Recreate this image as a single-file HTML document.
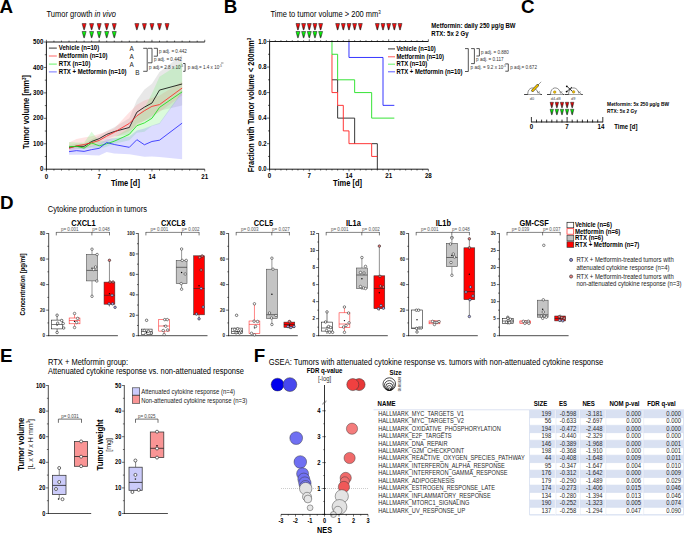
<!DOCTYPE html>
<html><head><meta charset="utf-8"><title>Figure</title>
<style>
html,body{margin:0;padding:0;background:#fff;width:685px;height:534px;overflow:hidden;}
svg{display:block;font-family:"Liberation Sans",sans-serif;}
</style></head><body>
<svg width="685" height="534" viewBox="0 0 685 534">
<defs>
<linearGradient id="gr" x1="0" y1="0" x2="0" y2="1"><stop offset="0" stop-color="#ff1a1a"/><stop offset="0.45" stop-color="#f00000"/><stop offset="1" stop-color="#500000"/></linearGradient>
<linearGradient id="gg" x1="0" y1="0" x2="0" y2="1"><stop offset="0" stop-color="#1aff1a"/><stop offset="0.45" stop-color="#00e800"/><stop offset="1" stop-color="#004a00"/></linearGradient>
<linearGradient id="grc" x1="0" y1="0" x2="0" y2="1"><stop offset="0" stop-color="#ff1010"/><stop offset="0.4" stop-color="#d00000"/><stop offset="1" stop-color="#300000"/></linearGradient>
<linearGradient id="ggc" x1="0" y1="0" x2="0" y2="1"><stop offset="0" stop-color="#10ff10"/><stop offset="0.4" stop-color="#00d000"/><stop offset="1" stop-color="#003000"/></linearGradient>
</defs>
<rect width="685" height="534" fill="#fff"/>
<text transform="translate(-0.4,12.9) scale(1,1.0)" font-size="18.8" font-weight="bold" text-anchor="start" fill="#000" >A</text>
<text transform="translate(46.5,17) scale(1,1.13)" font-size="7.5" fill="#000">Tumor growth <tspan font-style="italic">in vivo</tspan></text>
<polygon points="82.1,23.6 86.1,23.6 84.35,29.8 83.85,29.8" fill="url(#gr)" stroke="#2a2a2a" stroke-width="0.6" stroke-linejoin="round"/>
<polygon points="89.64,23.6 93.64,23.6 91.89,29.8 91.39,29.8" fill="url(#gr)" stroke="#2a2a2a" stroke-width="0.6" stroke-linejoin="round"/>
<polygon points="97.18,23.6 101.18,23.6 99.43,29.8 98.93,29.8" fill="url(#gr)" stroke="#2a2a2a" stroke-width="0.6" stroke-linejoin="round"/>
<polygon points="104.72,23.6 108.72,23.6 106.97,29.8 106.47,29.8" fill="url(#gr)" stroke="#2a2a2a" stroke-width="0.6" stroke-linejoin="round"/>
<polygon points="112.26,23.6 116.26,23.6 114.51,29.8 114.01,29.8" fill="url(#gr)" stroke="#2a2a2a" stroke-width="0.6" stroke-linejoin="round"/>
<polygon points="134.88,23.6 138.88,23.6 137.13,29.8 136.63,29.8" fill="url(#gr)" stroke="#2a2a2a" stroke-width="0.6" stroke-linejoin="round"/>
<polygon points="142.42,23.6 146.42,23.6 144.67,29.8 144.17,29.8" fill="url(#gr)" stroke="#2a2a2a" stroke-width="0.6" stroke-linejoin="round"/>
<polygon points="149.96,23.6 153.96,23.6 152.21,29.8 151.71,29.8" fill="url(#gr)" stroke="#2a2a2a" stroke-width="0.6" stroke-linejoin="round"/>
<polygon points="157.5,23.6 161.5,23.6 159.75,29.8 159.25,29.8" fill="url(#gr)" stroke="#2a2a2a" stroke-width="0.6" stroke-linejoin="round"/>
<polygon points="165.04,23.6 169.04,23.6 167.29,29.8 166.79,29.8" fill="url(#gr)" stroke="#2a2a2a" stroke-width="0.6" stroke-linejoin="round"/>
<polygon points="82.1,31.5 86.1,31.5 84.35,37.8 83.85,37.8" fill="url(#gg)" stroke="#2a2a2a" stroke-width="0.6" stroke-linejoin="round"/>
<polygon points="89.64,31.5 93.64,31.5 91.89,37.8 91.39,37.8" fill="url(#gg)" stroke="#2a2a2a" stroke-width="0.6" stroke-linejoin="round"/>
<polygon points="97.18,31.5 101.18,31.5 99.43,37.8 98.93,37.8" fill="url(#gg)" stroke="#2a2a2a" stroke-width="0.6" stroke-linejoin="round"/>
<polygon points="104.72,31.5 108.72,31.5 106.97,37.8 106.47,37.8" fill="url(#gg)" stroke="#2a2a2a" stroke-width="0.6" stroke-linejoin="round"/>
<polygon points="112.26,31.5 116.26,31.5 114.51,37.8 114.01,37.8" fill="url(#gg)" stroke="#2a2a2a" stroke-width="0.6" stroke-linejoin="round"/>
<polygon points="69.02,145.03 76.56,143.76 84.1,143.76 91.64,139.18 99.18,135.62 106.72,131.04 114.26,127.22 129.34,118.32 136.88,100 144.42,89.57 151.96,83.72 159.5,72.02 182.12,54.72 182.12,105.6 159.5,110.69 151.96,118.32 144.42,120.86 136.88,123.41 129.34,134.86 114.26,136.13 106.72,138.67 99.18,142.49 91.64,145.03 84.1,148.85 76.56,148.34 69.02,149.36" fill="#b4b4b4" stroke="none" stroke-width="0.5" fill-opacity="0.3"/>
<polygon points="69.02,142.49 76.56,138.93 84.1,137.4 91.64,136.13 99.18,134.09 106.72,131.55 114.26,128.5 129.34,112.21 136.88,104.84 144.42,100.51 151.96,97.97 159.5,95.42 182.12,81.43 182.12,95.42 159.5,111.96 151.96,115.78 144.42,120.86 136.88,125.95 129.34,131.04 114.26,137.4 106.72,141.72 99.18,145.03 91.64,146.81 84.1,148.34 76.56,149.36 69.02,150.88" fill="#ff8080" stroke="none" stroke-width="0.5" fill-opacity="0.22"/>
<polygon points="69.02,141.98 76.56,142.49 84.1,142.74 91.64,131.8 99.18,141.22 106.72,140.71 114.26,137.4 129.34,127.99 136.88,115.78 144.42,108.14 151.96,93.39 159.5,76.85 182.12,62.35 182.12,92.88 159.5,123.92 151.96,125.95 144.42,131.8 136.88,132.82 129.34,140.2 114.26,143.76 106.72,146.81 99.18,148.85 91.64,147.58 84.1,149.36 76.56,148.34 69.02,147.58" fill="#70f070" stroke="none" stroke-width="0.5" fill-opacity="0.25"/>
<polygon points="69.02,148.08 76.56,147.58 84.1,147.58 91.64,145.8 99.18,143.25 106.72,138.93 114.26,138.16 129.34,136.38 136.88,130.53 144.42,128.5 151.96,125.44 159.5,122.9 182.12,91.61 182.12,159.28 159.5,156.99 151.96,156.48 144.42,156.73 136.88,155.46 129.34,154.19 114.26,153.43 106.72,151.9 99.18,155.46 91.64,155.21 84.1,154.7 76.56,154.7 69.02,154.7" fill="#8080ff" stroke="none" stroke-width="0.5" fill-opacity="0.28"/>
<polyline points="69.02,147.32 76.56,146.3 84.1,146.3 91.64,141.47 99.18,138.67 106.72,134.35 114.26,131.55 129.34,127.48 136.88,112.21 144.42,107.13 151.96,103.06 159.5,90.08 182.12,83.98" stroke="#000" stroke-width="0.8" fill="none" />
<polyline points="69.02,148.34 76.56,145.8 84.1,144.52 91.64,142.74 99.18,140.45 106.72,136.13 114.26,132.31 129.34,123.41 136.88,115.78 144.42,110.69 151.96,106.36 159.5,104.58 182.12,88.05" stroke="#ff2020" stroke-width="0.8" fill="none" />
<polyline points="69.02,146.81 76.56,146.3 84.1,148.08 91.64,143 99.18,145.8 106.72,143.76 114.26,141.22 129.34,134.35 136.88,125.7 144.42,122.9 151.96,118.32 159.5,107.38 182.12,91.86" stroke="#10e010" stroke-width="0.8" fill="none" />
<polyline points="69.02,151.65 76.56,150.63 84.1,151.39 91.64,149.61 99.18,148.34 106.72,142.49 114.26,144.52 129.34,147.32 136.88,139.69 144.42,144.78 151.96,141.47 159.5,140.2 182.12,123.15" stroke="#2020ff" stroke-width="0.8" fill="none" />
<line x1="46.4" y1="42" x2="46.4" y2="169.6" stroke="#000" stroke-width="0.9" />
<line x1="46" y1="169.2" x2="204.74" y2="169.2" stroke="#000" stroke-width="0.9" />
<line x1="46.4" y1="42" x2="204.74" y2="42" stroke="#000" stroke-width="0.9" />
<line x1="46.4" y1="169.2" x2="46.4" y2="171.4" stroke="#000" stroke-width="0.6" />
<line x1="46.4" y1="42" x2="46.4" y2="39.8" stroke="#000" stroke-width="0.6" />
<line x1="53.94" y1="169.2" x2="53.94" y2="170.6" stroke="#000" stroke-width="0.6" />
<line x1="53.94" y1="42" x2="53.94" y2="40.6" stroke="#000" stroke-width="0.6" />
<line x1="61.48" y1="169.2" x2="61.48" y2="170.6" stroke="#000" stroke-width="0.6" />
<line x1="61.48" y1="42" x2="61.48" y2="40.6" stroke="#000" stroke-width="0.6" />
<line x1="69.02" y1="169.2" x2="69.02" y2="170.6" stroke="#000" stroke-width="0.6" />
<line x1="69.02" y1="42" x2="69.02" y2="40.6" stroke="#000" stroke-width="0.6" />
<line x1="76.56" y1="169.2" x2="76.56" y2="170.6" stroke="#000" stroke-width="0.6" />
<line x1="76.56" y1="42" x2="76.56" y2="40.6" stroke="#000" stroke-width="0.6" />
<line x1="84.1" y1="169.2" x2="84.1" y2="170.6" stroke="#000" stroke-width="0.6" />
<line x1="84.1" y1="42" x2="84.1" y2="40.6" stroke="#000" stroke-width="0.6" />
<line x1="91.64" y1="169.2" x2="91.64" y2="170.6" stroke="#000" stroke-width="0.6" />
<line x1="91.64" y1="42" x2="91.64" y2="40.6" stroke="#000" stroke-width="0.6" />
<line x1="99.18" y1="169.2" x2="99.18" y2="171.4" stroke="#000" stroke-width="0.6" />
<line x1="99.18" y1="42" x2="99.18" y2="39.8" stroke="#000" stroke-width="0.6" />
<line x1="106.72" y1="169.2" x2="106.72" y2="170.6" stroke="#000" stroke-width="0.6" />
<line x1="106.72" y1="42" x2="106.72" y2="40.6" stroke="#000" stroke-width="0.6" />
<line x1="114.26" y1="169.2" x2="114.26" y2="170.6" stroke="#000" stroke-width="0.6" />
<line x1="114.26" y1="42" x2="114.26" y2="40.6" stroke="#000" stroke-width="0.6" />
<line x1="121.8" y1="169.2" x2="121.8" y2="170.6" stroke="#000" stroke-width="0.6" />
<line x1="121.8" y1="42" x2="121.8" y2="40.6" stroke="#000" stroke-width="0.6" />
<line x1="129.34" y1="169.2" x2="129.34" y2="170.6" stroke="#000" stroke-width="0.6" />
<line x1="129.34" y1="42" x2="129.34" y2="40.6" stroke="#000" stroke-width="0.6" />
<line x1="136.88" y1="169.2" x2="136.88" y2="170.6" stroke="#000" stroke-width="0.6" />
<line x1="136.88" y1="42" x2="136.88" y2="40.6" stroke="#000" stroke-width="0.6" />
<line x1="144.42" y1="169.2" x2="144.42" y2="170.6" stroke="#000" stroke-width="0.6" />
<line x1="144.42" y1="42" x2="144.42" y2="40.6" stroke="#000" stroke-width="0.6" />
<line x1="151.96" y1="169.2" x2="151.96" y2="171.4" stroke="#000" stroke-width="0.6" />
<line x1="151.96" y1="42" x2="151.96" y2="39.8" stroke="#000" stroke-width="0.6" />
<line x1="159.5" y1="169.2" x2="159.5" y2="170.6" stroke="#000" stroke-width="0.6" />
<line x1="159.5" y1="42" x2="159.5" y2="40.6" stroke="#000" stroke-width="0.6" />
<line x1="167.04" y1="169.2" x2="167.04" y2="170.6" stroke="#000" stroke-width="0.6" />
<line x1="167.04" y1="42" x2="167.04" y2="40.6" stroke="#000" stroke-width="0.6" />
<line x1="174.58" y1="169.2" x2="174.58" y2="170.6" stroke="#000" stroke-width="0.6" />
<line x1="174.58" y1="42" x2="174.58" y2="40.6" stroke="#000" stroke-width="0.6" />
<line x1="182.12" y1="169.2" x2="182.12" y2="170.6" stroke="#000" stroke-width="0.6" />
<line x1="182.12" y1="42" x2="182.12" y2="40.6" stroke="#000" stroke-width="0.6" />
<line x1="189.66" y1="169.2" x2="189.66" y2="170.6" stroke="#000" stroke-width="0.6" />
<line x1="189.66" y1="42" x2="189.66" y2="40.6" stroke="#000" stroke-width="0.6" />
<line x1="197.2" y1="169.2" x2="197.2" y2="170.6" stroke="#000" stroke-width="0.6" />
<line x1="197.2" y1="42" x2="197.2" y2="40.6" stroke="#000" stroke-width="0.6" />
<line x1="204.74" y1="169.2" x2="204.74" y2="171.4" stroke="#000" stroke-width="0.6" />
<line x1="204.74" y1="42" x2="204.74" y2="39.8" stroke="#000" stroke-width="0.6" />
<line x1="43.8" y1="169.2" x2="46.4" y2="169.2" stroke="#000" stroke-width="0.6" />
<line x1="44.8" y1="156.48" x2="46.4" y2="156.48" stroke="#000" stroke-width="0.6" />
<line x1="43.8" y1="143.76" x2="46.4" y2="143.76" stroke="#000" stroke-width="0.6" />
<line x1="44.8" y1="131.04" x2="46.4" y2="131.04" stroke="#000" stroke-width="0.6" />
<line x1="43.8" y1="118.32" x2="46.4" y2="118.32" stroke="#000" stroke-width="0.6" />
<line x1="44.8" y1="105.6" x2="46.4" y2="105.6" stroke="#000" stroke-width="0.6" />
<line x1="43.8" y1="92.88" x2="46.4" y2="92.88" stroke="#000" stroke-width="0.6" />
<line x1="44.8" y1="80.16" x2="46.4" y2="80.16" stroke="#000" stroke-width="0.6" />
<line x1="43.8" y1="67.44" x2="46.4" y2="67.44" stroke="#000" stroke-width="0.6" />
<line x1="44.8" y1="54.72" x2="46.4" y2="54.72" stroke="#000" stroke-width="0.6" />
<line x1="43.8" y1="42" x2="46.4" y2="42" stroke="#000" stroke-width="0.6" />
<text transform="translate(43.4,171.3) scale(1,1.13)" font-size="6.2" font-weight="bold" text-anchor="end" fill="#000" >0</text>
<text transform="translate(43.4,145.86) scale(1,1.13)" font-size="6.2" font-weight="bold" text-anchor="end" fill="#000" >100</text>
<text transform="translate(43.4,120.42) scale(1,1.13)" font-size="6.2" font-weight="bold" text-anchor="end" fill="#000" >200</text>
<text transform="translate(43.4,94.98) scale(1,1.13)" font-size="6.2" font-weight="bold" text-anchor="end" fill="#000" >300</text>
<text transform="translate(43.4,69.54) scale(1,1.13)" font-size="6.2" font-weight="bold" text-anchor="end" fill="#000" >400</text>
<text transform="translate(43.4,44.1) scale(1,1.13)" font-size="6.2" font-weight="bold" text-anchor="end" fill="#000" >500</text>
<text transform="translate(46.4,178.6) scale(1,1.13)" font-size="6.2" font-weight="bold" text-anchor="middle" fill="#000" >0</text>
<text transform="translate(99.18,178.6) scale(1,1.13)" font-size="6.2" font-weight="bold" text-anchor="middle" fill="#000" >7</text>
<text transform="translate(151.96,178.6) scale(1,1.13)" font-size="6.2" font-weight="bold" text-anchor="middle" fill="#000" >14</text>
<text transform="translate(204.74,178.6) scale(1,1.13)" font-size="6.2" font-weight="bold" text-anchor="middle" fill="#000" >21</text>
<text transform="translate(125.4,185.6) scale(1,1.13)" font-size="7.5" font-weight="bold" text-anchor="middle" fill="#000" >Time [d]</text>
<text transform="translate(28.5,112) rotate(-90) scale(1,1.13)" font-size="7.5" font-weight="bold" text-anchor="middle" fill="#000">Tumor volume [mm<tspan font-size="4.5" dy="-2.6">3</tspan><tspan dy="2.6">]</tspan></text>
<line x1="48.9" y1="48.1" x2="56.8" y2="48.1" stroke="#000" stroke-width="0.8" />
<text transform="translate(58.8,50.3) scale(1,1.13)" font-size="6.05" font-weight="bold" text-anchor="start" fill="#000" >Vehicle (n=10)</text>
<line x1="48.9" y1="56" x2="56.8" y2="56" stroke="#ff4040" stroke-width="0.8" />
<text transform="translate(58.8,58.2) scale(1,1.13)" font-size="6.05" font-weight="bold" text-anchor="start" fill="#000" >Metformin (n=10)</text>
<line x1="48.9" y1="64.1" x2="56.8" y2="64.1" stroke="#40f040" stroke-width="0.8" />
<text transform="translate(58.8,66.3) scale(1,1.13)" font-size="6.05" font-weight="bold" text-anchor="start" fill="#000" >RTX (n=10)</text>
<line x1="48.9" y1="71.9" x2="56.8" y2="71.9" stroke="#5050ff" stroke-width="0.8" />
<text transform="translate(58.8,74.1) scale(1,1.13)" font-size="6.05" font-weight="bold" text-anchor="start" fill="#000" >RTX + Metformin (n=10)</text>
<text transform="translate(131.6,50.8) scale(1,1.13)" font-size="6.4" text-anchor="middle" fill="#222" >A</text>
<text transform="translate(131.6,58.6) scale(1,1.13)" font-size="6.4" text-anchor="middle" fill="#222" >A</text>
<text transform="translate(131.6,66.6) scale(1,1.13)" font-size="6.4" text-anchor="middle" fill="#222" >A</text>
<text transform="translate(137.4,74.6) scale(1,1.13)" font-size="6.4" text-anchor="middle" fill="#222" >B</text>
<polyline points="143.2,48.3 147.2,48.3 147.2,71.3 143.2,71.3" stroke="#2a2a2a" stroke-width="0.8" fill="none" />
<polyline points="148,48.3 152,48.3 152,62.8 148,62.8" stroke="#2a2a2a" stroke-width="0.8" fill="none" />
<polyline points="153.8,48.3 157.4,48.3 157.4,56.2 153.8,56.2" stroke="#2a2a2a" stroke-width="0.8" fill="none" />
<polyline points="183.1,63.5 185.1,63.5 185.1,71.3 183.1,71.3" stroke="#2a2a2a" stroke-width="0.8" fill="none" />
<g font-size="4.3" fill="#444">
<text transform="translate(158.9,53) scale(1,1.13)" font-size="4.6" text-anchor="start" fill="#333" >p adj. = 0.442</text>
<text transform="translate(153.9,61.2) scale(1,1.13)" font-size="4.6" text-anchor="start" fill="#333" >p adj. = 0.442</text>
<text transform="translate(149.1,69.1) scale(1,1.13)" font-size="4.6" fill="#333">p adj.= 2.8 x 10<tspan font-size="2.8" dy="-1.6">-5</tspan></text>
<text transform="translate(187.8,69.1) scale(1,1.13)" font-size="4.6" fill="#333">p adj.= 1.4 x 10<tspan font-size="2.8" dy="-1.6">-5</tspan></text>
</g>
<text transform="translate(223.7,12.9) scale(1,1.0)" font-size="18.8" font-weight="bold" text-anchor="start" fill="#000" >B</text>
<text transform="translate(270.5,17) scale(1,1.13)" font-size="7.5" fill="#000">Time to tumor volume &gt; 200 mm<tspan font-size="4.5" dy="-2.6">3</tspan></text>
<polygon points="296,23.5 299.9,23.5 298.2,29.9 297.7,29.9" fill="url(#gr)" stroke="#2a2a2a" stroke-width="0.6" stroke-linejoin="round"/>
<polygon points="301.67,23.5 305.57,23.5 303.87,29.9 303.37,29.9" fill="url(#gr)" stroke="#2a2a2a" stroke-width="0.6" stroke-linejoin="round"/>
<polygon points="307.34,23.5 311.24,23.5 309.54,29.9 309.04,29.9" fill="url(#gr)" stroke="#2a2a2a" stroke-width="0.6" stroke-linejoin="round"/>
<polygon points="313.01,23.5 316.91,23.5 315.21,29.9 314.71,29.9" fill="url(#gr)" stroke="#2a2a2a" stroke-width="0.6" stroke-linejoin="round"/>
<polygon points="318.68,23.5 322.58,23.5 320.88,29.9 320.38,29.9" fill="url(#gr)" stroke="#2a2a2a" stroke-width="0.6" stroke-linejoin="round"/>
<polygon points="335.69,23.5 339.59,23.5 337.89,29.9 337.39,29.9" fill="url(#gr)" stroke="#2a2a2a" stroke-width="0.6" stroke-linejoin="round"/>
<polygon points="341.36,23.5 345.26,23.5 343.56,29.9 343.06,29.9" fill="url(#gr)" stroke="#2a2a2a" stroke-width="0.6" stroke-linejoin="round"/>
<polygon points="347.03,23.5 350.93,23.5 349.23,29.9 348.73,29.9" fill="url(#gr)" stroke="#2a2a2a" stroke-width="0.6" stroke-linejoin="round"/>
<polygon points="352.7,23.5 356.6,23.5 354.9,29.9 354.4,29.9" fill="url(#gr)" stroke="#2a2a2a" stroke-width="0.6" stroke-linejoin="round"/>
<polygon points="358.37,23.5 362.27,23.5 360.57,29.9 360.07,29.9" fill="url(#gr)" stroke="#2a2a2a" stroke-width="0.6" stroke-linejoin="round"/>
<polygon points="375.38,23.5 379.28,23.5 377.58,29.9 377.08,29.9" fill="url(#gr)" stroke="#2a2a2a" stroke-width="0.6" stroke-linejoin="round"/>
<polygon points="381.05,23.5 384.95,23.5 383.25,29.9 382.75,29.9" fill="url(#gr)" stroke="#2a2a2a" stroke-width="0.6" stroke-linejoin="round"/>
<polygon points="386.72,23.5 390.62,23.5 388.92,29.9 388.42,29.9" fill="url(#gr)" stroke="#2a2a2a" stroke-width="0.6" stroke-linejoin="round"/>
<polygon points="392.39,23.5 396.29,23.5 394.59,29.9 394.09,29.9" fill="url(#gr)" stroke="#2a2a2a" stroke-width="0.6" stroke-linejoin="round"/>
<polygon points="398.06,23.5 401.96,23.5 400.26,29.9 399.76,29.9" fill="url(#gr)" stroke="#2a2a2a" stroke-width="0.6" stroke-linejoin="round"/>
<polygon points="296,31.5 299.9,31.5 298.2,37.8 297.7,37.8" fill="url(#gg)" stroke="#2a2a2a" stroke-width="0.6" stroke-linejoin="round"/>
<polygon points="301.67,31.5 305.57,31.5 303.87,37.8 303.37,37.8" fill="url(#gg)" stroke="#2a2a2a" stroke-width="0.6" stroke-linejoin="round"/>
<polygon points="307.34,31.5 311.24,31.5 309.54,37.8 309.04,37.8" fill="url(#gg)" stroke="#2a2a2a" stroke-width="0.6" stroke-linejoin="round"/>
<polygon points="313.01,31.5 316.91,31.5 315.21,37.8 314.71,37.8" fill="url(#gg)" stroke="#2a2a2a" stroke-width="0.6" stroke-linejoin="round"/>
<polygon points="318.68,31.5 322.58,31.5 320.88,37.8 320.38,37.8" fill="url(#gg)" stroke="#2a2a2a" stroke-width="0.6" stroke-linejoin="round"/>
<polyline points="331.97,79.81 337.64,79.81 337.64,92.58" stroke="#222" stroke-width="0.9" fill="none" />
<polyline points="337.64,105.35 337.64,118.12 354.65,118.12 354.65,143.66" stroke="#222" stroke-width="0.9" fill="none" />
<polyline points="371.66,143.66 377.33,143.66 377.33,169.2" stroke="#222" stroke-width="0.9" fill="none" />
<polyline points="331.97,54.27 331.97,92.58 337.64,92.58 337.64,105.35 343.31,105.35 343.31,130.89 348.98,130.89 348.98,143.66 371.66,143.66 371.66,156.43 377.33,156.43" stroke="#ff2020" stroke-width="0.9" fill="none" />
<polyline points="331.97,41.5 331.97,54.27 337.64,54.27 337.64,79.81 354.65,79.81 354.65,92.58 371.66,92.58 371.66,118.12 394.34,118.12" stroke="#20e020" stroke-width="0.9" fill="none" />
<polyline points="348.98,41.5 348.98,57.46 383,57.46 383,105.35 394.34,105.35" stroke="#2020ff" stroke-width="0.9" fill="none" />
<line x1="269.6" y1="41.5" x2="269.6" y2="169.6" stroke="#000" stroke-width="0.9" />
<line x1="269.2" y1="169.2" x2="428.36" y2="169.2" stroke="#000" stroke-width="0.9" />
<line x1="269.6" y1="41.5" x2="428.36" y2="41.5" stroke="#000" stroke-width="0.9" />
<line x1="269.6" y1="169.2" x2="269.6" y2="171.4" stroke="#000" stroke-width="0.6" />
<line x1="269.6" y1="41.5" x2="269.6" y2="39.3" stroke="#000" stroke-width="0.6" />
<line x1="275.27" y1="169.2" x2="275.27" y2="170.5" stroke="#000" stroke-width="0.6" />
<line x1="275.27" y1="41.5" x2="275.27" y2="40.2" stroke="#000" stroke-width="0.6" />
<line x1="280.94" y1="169.2" x2="280.94" y2="170.5" stroke="#000" stroke-width="0.6" />
<line x1="280.94" y1="41.5" x2="280.94" y2="40.2" stroke="#000" stroke-width="0.6" />
<line x1="286.61" y1="169.2" x2="286.61" y2="170.5" stroke="#000" stroke-width="0.6" />
<line x1="286.61" y1="41.5" x2="286.61" y2="40.2" stroke="#000" stroke-width="0.6" />
<line x1="292.28" y1="169.2" x2="292.28" y2="170.5" stroke="#000" stroke-width="0.6" />
<line x1="292.28" y1="41.5" x2="292.28" y2="40.2" stroke="#000" stroke-width="0.6" />
<line x1="297.95" y1="169.2" x2="297.95" y2="170.5" stroke="#000" stroke-width="0.6" />
<line x1="297.95" y1="41.5" x2="297.95" y2="40.2" stroke="#000" stroke-width="0.6" />
<line x1="303.62" y1="169.2" x2="303.62" y2="170.5" stroke="#000" stroke-width="0.6" />
<line x1="303.62" y1="41.5" x2="303.62" y2="40.2" stroke="#000" stroke-width="0.6" />
<line x1="309.29" y1="169.2" x2="309.29" y2="171.4" stroke="#000" stroke-width="0.6" />
<line x1="309.29" y1="41.5" x2="309.29" y2="39.3" stroke="#000" stroke-width="0.6" />
<line x1="314.96" y1="169.2" x2="314.96" y2="170.5" stroke="#000" stroke-width="0.6" />
<line x1="314.96" y1="41.5" x2="314.96" y2="40.2" stroke="#000" stroke-width="0.6" />
<line x1="320.63" y1="169.2" x2="320.63" y2="170.5" stroke="#000" stroke-width="0.6" />
<line x1="320.63" y1="41.5" x2="320.63" y2="40.2" stroke="#000" stroke-width="0.6" />
<line x1="326.3" y1="169.2" x2="326.3" y2="170.5" stroke="#000" stroke-width="0.6" />
<line x1="326.3" y1="41.5" x2="326.3" y2="40.2" stroke="#000" stroke-width="0.6" />
<line x1="331.97" y1="169.2" x2="331.97" y2="170.5" stroke="#000" stroke-width="0.6" />
<line x1="331.97" y1="41.5" x2="331.97" y2="40.2" stroke="#000" stroke-width="0.6" />
<line x1="337.64" y1="169.2" x2="337.64" y2="170.5" stroke="#000" stroke-width="0.6" />
<line x1="337.64" y1="41.5" x2="337.64" y2="40.2" stroke="#000" stroke-width="0.6" />
<line x1="343.31" y1="169.2" x2="343.31" y2="170.5" stroke="#000" stroke-width="0.6" />
<line x1="343.31" y1="41.5" x2="343.31" y2="40.2" stroke="#000" stroke-width="0.6" />
<line x1="348.98" y1="169.2" x2="348.98" y2="171.4" stroke="#000" stroke-width="0.6" />
<line x1="348.98" y1="41.5" x2="348.98" y2="39.3" stroke="#000" stroke-width="0.6" />
<line x1="354.65" y1="169.2" x2="354.65" y2="170.5" stroke="#000" stroke-width="0.6" />
<line x1="354.65" y1="41.5" x2="354.65" y2="40.2" stroke="#000" stroke-width="0.6" />
<line x1="360.32" y1="169.2" x2="360.32" y2="170.5" stroke="#000" stroke-width="0.6" />
<line x1="360.32" y1="41.5" x2="360.32" y2="40.2" stroke="#000" stroke-width="0.6" />
<line x1="365.99" y1="169.2" x2="365.99" y2="170.5" stroke="#000" stroke-width="0.6" />
<line x1="365.99" y1="41.5" x2="365.99" y2="40.2" stroke="#000" stroke-width="0.6" />
<line x1="371.66" y1="169.2" x2="371.66" y2="170.5" stroke="#000" stroke-width="0.6" />
<line x1="371.66" y1="41.5" x2="371.66" y2="40.2" stroke="#000" stroke-width="0.6" />
<line x1="377.33" y1="169.2" x2="377.33" y2="170.5" stroke="#000" stroke-width="0.6" />
<line x1="377.33" y1="41.5" x2="377.33" y2="40.2" stroke="#000" stroke-width="0.6" />
<line x1="383" y1="169.2" x2="383" y2="170.5" stroke="#000" stroke-width="0.6" />
<line x1="383" y1="41.5" x2="383" y2="40.2" stroke="#000" stroke-width="0.6" />
<line x1="388.67" y1="169.2" x2="388.67" y2="171.4" stroke="#000" stroke-width="0.6" />
<line x1="388.67" y1="41.5" x2="388.67" y2="39.3" stroke="#000" stroke-width="0.6" />
<line x1="394.34" y1="169.2" x2="394.34" y2="170.5" stroke="#000" stroke-width="0.6" />
<line x1="394.34" y1="41.5" x2="394.34" y2="40.2" stroke="#000" stroke-width="0.6" />
<line x1="400.01" y1="169.2" x2="400.01" y2="170.5" stroke="#000" stroke-width="0.6" />
<line x1="400.01" y1="41.5" x2="400.01" y2="40.2" stroke="#000" stroke-width="0.6" />
<line x1="405.68" y1="169.2" x2="405.68" y2="170.5" stroke="#000" stroke-width="0.6" />
<line x1="405.68" y1="41.5" x2="405.68" y2="40.2" stroke="#000" stroke-width="0.6" />
<line x1="411.35" y1="169.2" x2="411.35" y2="170.5" stroke="#000" stroke-width="0.6" />
<line x1="411.35" y1="41.5" x2="411.35" y2="40.2" stroke="#000" stroke-width="0.6" />
<line x1="417.02" y1="169.2" x2="417.02" y2="170.5" stroke="#000" stroke-width="0.6" />
<line x1="417.02" y1="41.5" x2="417.02" y2="40.2" stroke="#000" stroke-width="0.6" />
<line x1="422.69" y1="169.2" x2="422.69" y2="170.5" stroke="#000" stroke-width="0.6" />
<line x1="422.69" y1="41.5" x2="422.69" y2="40.2" stroke="#000" stroke-width="0.6" />
<line x1="428.36" y1="169.2" x2="428.36" y2="171.4" stroke="#000" stroke-width="0.6" />
<line x1="428.36" y1="41.5" x2="428.36" y2="39.3" stroke="#000" stroke-width="0.6" />
<line x1="267" y1="169.2" x2="269.6" y2="169.2" stroke="#000" stroke-width="0.6" />
<line x1="268" y1="156.43" x2="269.6" y2="156.43" stroke="#000" stroke-width="0.6" />
<line x1="267" y1="143.66" x2="269.6" y2="143.66" stroke="#000" stroke-width="0.6" />
<line x1="268" y1="130.89" x2="269.6" y2="130.89" stroke="#000" stroke-width="0.6" />
<line x1="267" y1="118.12" x2="269.6" y2="118.12" stroke="#000" stroke-width="0.6" />
<line x1="268" y1="105.35" x2="269.6" y2="105.35" stroke="#000" stroke-width="0.6" />
<line x1="267" y1="92.58" x2="269.6" y2="92.58" stroke="#000" stroke-width="0.6" />
<line x1="268" y1="79.81" x2="269.6" y2="79.81" stroke="#000" stroke-width="0.6" />
<line x1="267" y1="67.04" x2="269.6" y2="67.04" stroke="#000" stroke-width="0.6" />
<line x1="268" y1="54.27" x2="269.6" y2="54.27" stroke="#000" stroke-width="0.6" />
<line x1="267" y1="41.5" x2="269.6" y2="41.5" stroke="#000" stroke-width="0.6" />
<text transform="translate(266.7,171.2) scale(1,1.13)" font-size="6" font-weight="bold" text-anchor="end" fill="#000" >0.0</text>
<text transform="translate(266.7,145.66) scale(1,1.13)" font-size="6" font-weight="bold" text-anchor="end" fill="#000" >0.2</text>
<text transform="translate(266.7,120.12) scale(1,1.13)" font-size="6" font-weight="bold" text-anchor="end" fill="#000" >0.4</text>
<text transform="translate(266.7,94.58) scale(1,1.13)" font-size="6" font-weight="bold" text-anchor="end" fill="#000" >0.6</text>
<text transform="translate(266.7,69.04) scale(1,1.13)" font-size="6" font-weight="bold" text-anchor="end" fill="#000" >0.8</text>
<text transform="translate(266.7,43.5) scale(1,1.13)" font-size="6" font-weight="bold" text-anchor="end" fill="#000" >1.0</text>
<text transform="translate(269.6,178.4) scale(1,1.13)" font-size="6.2" font-weight="bold" text-anchor="middle" fill="#000" >0</text>
<text transform="translate(309.29,178.4) scale(1,1.13)" font-size="6.2" font-weight="bold" text-anchor="middle" fill="#000" >7</text>
<text transform="translate(348.98,178.4) scale(1,1.13)" font-size="6.2" font-weight="bold" text-anchor="middle" fill="#000" >14</text>
<text transform="translate(388.67,178.4) scale(1,1.13)" font-size="6.2" font-weight="bold" text-anchor="middle" fill="#000" >21</text>
<text transform="translate(428.36,178.4) scale(1,1.13)" font-size="6.2" font-weight="bold" text-anchor="middle" fill="#000" >28</text>
<text transform="translate(347.6,185.8) scale(1,1.13)" font-size="7.5" font-weight="bold" text-anchor="middle" fill="#000" >Time [d]</text>
<text transform="translate(254.2,105) rotate(-90) scale(1,1.13)" font-size="7.4" font-weight="bold" text-anchor="middle" fill="#000">Fraction with Tumor volume &lt; 200mm<tspan font-size="4.5" dy="-2.6">3</tspan></text>
<line x1="388" y1="48.9" x2="395" y2="48.9" stroke="#000" stroke-width="0.8" />
<text transform="translate(396.4,51) scale(1,1.13)" font-size="5.9" font-weight="bold" text-anchor="start" fill="#000" >Vehicle (n=10)</text>
<line x1="388" y1="56.8" x2="395" y2="56.8" stroke="#ff3030" stroke-width="0.8" />
<text transform="translate(396.4,58.9) scale(1,1.13)" font-size="5.9" font-weight="bold" text-anchor="start" fill="#000" >Metformin (n=10)</text>
<line x1="388" y1="64.2" x2="395" y2="64.2" stroke="#40f040" stroke-width="0.8" />
<text transform="translate(396.4,66.3) scale(1,1.13)" font-size="5.9" font-weight="bold" text-anchor="start" fill="#000" >RTX (n=10)</text>
<line x1="388" y1="71.8" x2="395" y2="71.8" stroke="#3030ff" stroke-width="0.8" />
<text transform="translate(396.4,73.9) scale(1,1.13)" font-size="5.9" font-weight="bold" text-anchor="start" fill="#000" >RTX + Metformin (n=10)</text>
<text transform="translate(431.3,28.2) scale(1,1.13)" font-size="6.05" font-weight="bold" text-anchor="start" fill="#000" >Metformin: daily 250 µg/g BW</text>
<text transform="translate(431.3,36.1) scale(1,1.13)" font-size="6.05" font-weight="bold" text-anchor="start" fill="#000" >RTX: 5x 2 Gy</text>
<polyline points="465,48.6 468.3,48.6 468.3,71.5 465,71.5" stroke="#2a2a2a" stroke-width="0.8" fill="none" />
<polyline points="471.1,48.6 474.4,48.6 474.4,63.6 471.1,63.6" stroke="#2a2a2a" stroke-width="0.8" fill="none" />
<polyline points="476.4,48.6 479.4,48.6 479.4,56 476.4,56" stroke="#2a2a2a" stroke-width="0.8" fill="none" />
<polyline points="505.3,63.9 508.3,63.9 508.3,71.2 505.3,71.2" stroke="#2a2a2a" stroke-width="0.8" fill="none" />
<text transform="translate(481,53.8) scale(1,1.13)" font-size="4.6" text-anchor="start" fill="#333" >p adj. = 0.880</text>
<text transform="translate(476.1,61.3) scale(1,1.13)" font-size="4.6" text-anchor="start" fill="#333" >p adj. = 0.117</text>
<text transform="translate(470.6,69.2) scale(1,1.13)" font-size="4.6" fill="#333">p adj. = 9.2 x 10<tspan font-size="2.8" dy="-1.6">-5</tspan></text>
<text transform="translate(510.3,69.1) scale(1,1.13)" font-size="4.6" text-anchor="start" fill="#333" >p adj.= 0.672</text>
<line x1="221" y1="63" x2="223.5" y2="63" stroke="#444" stroke-width="0.6" />
<text transform="translate(521,13.2) scale(1,1.0)" font-size="18.8" font-weight="bold" text-anchor="start" fill="#000" >C</text>
<line x1="531.4" y1="122" x2="602.8" y2="122" stroke="#000" stroke-width="0.9" />
<line x1="531.4" y1="117" x2="531.4" y2="122.4" stroke="#000" stroke-width="0.8" />
<line x1="536.5" y1="119.6" x2="536.5" y2="122.4" stroke="#000" stroke-width="0.8" />
<line x1="541.6" y1="119.6" x2="541.6" y2="122.4" stroke="#000" stroke-width="0.8" />
<line x1="546.7" y1="119.6" x2="546.7" y2="122.4" stroke="#000" stroke-width="0.8" />
<line x1="551.8" y1="119.6" x2="551.8" y2="122.4" stroke="#000" stroke-width="0.8" />
<line x1="556.9" y1="119.6" x2="556.9" y2="122.4" stroke="#000" stroke-width="0.8" />
<line x1="562" y1="119.6" x2="562" y2="122.4" stroke="#000" stroke-width="0.8" />
<line x1="567.1" y1="117" x2="567.1" y2="122.4" stroke="#000" stroke-width="0.8" />
<line x1="572.2" y1="119.6" x2="572.2" y2="122.4" stroke="#000" stroke-width="0.8" />
<line x1="577.3" y1="119.6" x2="577.3" y2="122.4" stroke="#000" stroke-width="0.8" />
<line x1="582.4" y1="119.6" x2="582.4" y2="122.4" stroke="#000" stroke-width="0.8" />
<line x1="587.5" y1="119.6" x2="587.5" y2="122.4" stroke="#000" stroke-width="0.8" />
<line x1="592.6" y1="119.6" x2="592.6" y2="122.4" stroke="#000" stroke-width="0.8" />
<line x1="597.7" y1="119.6" x2="597.7" y2="122.4" stroke="#000" stroke-width="0.8" />
<line x1="602.8" y1="117" x2="602.8" y2="122.4" stroke="#000" stroke-width="0.8" />
<text transform="translate(531.4,129) scale(1,1.13)" font-size="6.2" font-weight="bold" text-anchor="middle" fill="#000" >0</text>
<text transform="translate(567.1,129) scale(1,1.13)" font-size="6.2" font-weight="bold" text-anchor="middle" fill="#000" >7</text>
<text transform="translate(601,129) scale(1,1.13)" font-size="6.2" font-weight="bold" text-anchor="middle" fill="#000" >14</text>
<text transform="translate(614.3,128.9) scale(1,1.13)" font-size="6" font-weight="bold" text-anchor="start" fill="#000" >Time [d]</text>
<polygon points="550.15,102.3 553.45,102.3 552.05,107.7 551.55,107.7" fill="url(#grc)" stroke="#2a2a2a" stroke-width="0.6" stroke-linejoin="round"/>
<polygon points="550.15,109.3 553.45,109.3 552.05,114.7 551.55,114.7" fill="url(#ggc)" stroke="#2a2a2a" stroke-width="0.6" stroke-linejoin="round"/>
<polygon points="555.25,102.3 558.55,102.3 557.15,107.7 556.65,107.7" fill="url(#grc)" stroke="#2a2a2a" stroke-width="0.6" stroke-linejoin="round"/>
<polygon points="555.25,109.3 558.55,109.3 557.15,114.7 556.65,114.7" fill="url(#ggc)" stroke="#2a2a2a" stroke-width="0.6" stroke-linejoin="round"/>
<polygon points="560.35,102.3 563.65,102.3 562.25,107.7 561.75,107.7" fill="url(#grc)" stroke="#2a2a2a" stroke-width="0.6" stroke-linejoin="round"/>
<polygon points="560.35,109.3 563.65,109.3 562.25,114.7 561.75,114.7" fill="url(#ggc)" stroke="#2a2a2a" stroke-width="0.6" stroke-linejoin="round"/>
<polygon points="565.45,102.3 568.75,102.3 567.35,107.7 566.85,107.7" fill="url(#grc)" stroke="#2a2a2a" stroke-width="0.6" stroke-linejoin="round"/>
<polygon points="565.45,109.3 568.75,109.3 567.35,114.7 566.85,114.7" fill="url(#ggc)" stroke="#2a2a2a" stroke-width="0.6" stroke-linejoin="round"/>
<polygon points="570.55,102.3 573.85,102.3 572.45,107.7 571.95,107.7" fill="url(#grc)" stroke="#2a2a2a" stroke-width="0.6" stroke-linejoin="round"/>
<polygon points="570.55,109.3 573.85,109.3 572.45,114.7 571.95,114.7" fill="url(#ggc)" stroke="#2a2a2a" stroke-width="0.6" stroke-linejoin="round"/>
<text transform="translate(607.1,106.2) scale(1,1.13)" font-size="4.85" font-weight="bold" text-anchor="start" fill="#000" >Metformin: 5x 250 µg/g BW</text>
<text transform="translate(607.1,113.1) scale(1,1.13)" font-size="4.85" font-weight="bold" text-anchor="start" fill="#000" >RTX: 5x 2 Gy</text>
<path d="M524.1,94.5 L542,94.5" stroke="#111" stroke-width="0.8"/>
<path d="M527.68,94.5 C527.68,86.5 535.2,86.18 537.35,91.3 C538.42,92.58 539.85,93.22 540.93,94.5" stroke="#222" stroke-width="0.5" fill="#fff"/>
<path d="M537.35,91.3 L538.06,93.54 M539.14,92.58 L539.49,91.3" stroke="#222" stroke-width="0.45" fill="none"/>
<path d="M532.6,90.6 L537.6,85.4" stroke="#222" stroke-width="2.6" stroke-linecap="round"/><path d="M532.6,90.6 L537.6,85.4" stroke="#f0c000" stroke-width="1.8" stroke-linecap="round"/><path d="M538,85 L541.2,81.8" stroke="#222" stroke-width="0.45"/>
<path d="M547,94.5 L564.4,94.5" stroke="#111" stroke-width="0.8"/>
<path d="M550.48,94.5 C550.48,86.5 557.79,86.18 559.88,91.3 C560.92,92.58 562.31,93.22 563.36,94.5" stroke="#222" stroke-width="0.5" fill="#fff"/>
<path d="M559.88,91.3 L560.57,93.54 M561.62,92.58 L561.96,91.3" stroke="#222" stroke-width="0.45" fill="none"/>
<circle cx="554.7" cy="92.1" r="1.3" fill="#f0c000" stroke="#705000" stroke-width="0.35" />
<path d="M565,94.5 L582.8,94.5" stroke="#111" stroke-width="0.8"/>
<path d="M568.56,94.5 C568.56,86.5 576.04,86.18 578.17,91.3 C579.24,92.58 580.66,93.22 581.73,94.5" stroke="#222" stroke-width="0.5" fill="#fff"/>
<path d="M578.17,91.3 L578.88,93.54 M579.95,92.58 L580.31,91.3" stroke="#222" stroke-width="0.45" fill="none"/>
<circle cx="573.6" cy="91.9" r="1.3" fill="#f0c000" stroke="#705000" stroke-width="0.35" />
<path d="M567.2,86.6 L572.2,91.2 M567.0,91.4 L572.0,87.0" stroke="#000" stroke-width="0.8" fill="none"/><circle cx="566.8" cy="86.3" r="0.9" fill="#000"/><circle cx="566.6" cy="91.6" r="0.9" fill="#000"/>
<text transform="translate(532,99.6) scale(1,1.13)" font-size="3.9" text-anchor="middle" fill="#444" >d0</text>
<text transform="translate(555.7,99.6) scale(1,1.13)" font-size="3.9" text-anchor="middle" fill="#444" >d4-d8</text>
<text transform="translate(573.2,99.6) scale(1,1.13)" font-size="3.9" text-anchor="middle" fill="#444" >d9</text>
<text transform="translate(0,209) scale(1,1.0)" font-size="18.8" font-weight="bold" text-anchor="start" fill="#000" >D</text>
<text transform="translate(47.8,211.7) scale(1,1.13)" font-size="7.5" text-anchor="start" fill="#000" >Cytokine production in tumors</text>
<text transform="translate(21.9,284.5) rotate(-90) scale(1,1.13)" font-size="6" font-weight="bold" text-anchor="middle" dominant-baseline="central" fill="#000">Concentration [pg/ml]</text>
<text transform="translate(83.5,225.6) scale(1,1.13)" font-size="7.45" font-weight="bold" text-anchor="middle" fill="#000" >CXCL1</text>
<line x1="48.7" y1="233.2" x2="48.7" y2="336.1" stroke="#000" stroke-width="0.7" />
<line x1="48.4" y1="335.7" x2="117.9" y2="335.7" stroke="#000" stroke-width="0.7" />
<line x1="46.2" y1="335.7" x2="48.7" y2="335.7" stroke="#000" stroke-width="0.6" />
<text transform="translate(45.1,337.3) scale(1,1.13)" font-size="4.6" font-weight="bold" text-anchor="end" fill="#222" >0</text>
<line x1="47.4" y1="322.93" x2="48.7" y2="322.93" stroke="#000" stroke-width="0.6" />
<line x1="46.2" y1="310.15" x2="48.7" y2="310.15" stroke="#000" stroke-width="0.6" />
<text transform="translate(45.1,311.75) scale(1,1.13)" font-size="4.6" font-weight="bold" text-anchor="end" fill="#222" >20</text>
<line x1="47.4" y1="297.38" x2="48.7" y2="297.38" stroke="#000" stroke-width="0.6" />
<line x1="46.2" y1="284.6" x2="48.7" y2="284.6" stroke="#000" stroke-width="0.6" />
<text transform="translate(45.1,286.2) scale(1,1.13)" font-size="4.6" font-weight="bold" text-anchor="end" fill="#222" >40</text>
<line x1="47.4" y1="271.82" x2="48.7" y2="271.82" stroke="#000" stroke-width="0.6" />
<line x1="46.2" y1="259.05" x2="48.7" y2="259.05" stroke="#000" stroke-width="0.6" />
<text transform="translate(45.1,260.65) scale(1,1.13)" font-size="4.6" font-weight="bold" text-anchor="end" fill="#222" >60</text>
<line x1="47.4" y1="246.28" x2="48.7" y2="246.28" stroke="#000" stroke-width="0.6" />
<line x1="46.2" y1="233.5" x2="48.7" y2="233.5" stroke="#000" stroke-width="0.6" />
<text transform="translate(45.1,235.1) scale(1,1.13)" font-size="4.6" font-weight="bold" text-anchor="end" fill="#222" >80</text>
<line x1="56.3" y1="232.4" x2="109.5" y2="232.4" stroke="#777" stroke-width="0.9" />
<line x1="56.3" y1="232" x2="56.3" y2="235.4" stroke="#444" stroke-width="0.7" />
<line x1="91.9" y1="232" x2="91.9" y2="235.4" stroke="#444" stroke-width="0.7" />
<line x1="109.5" y1="232" x2="109.5" y2="235.4" stroke="#444" stroke-width="0.7" />
<text transform="translate(69.8,231.2) scale(1,1.13)" font-size="4.5" text-anchor="middle" fill="#555" >p= 0.001</text>
<text transform="translate(101,231.2) scale(1,1.13)" font-size="4.5" text-anchor="middle" fill="#555" >p= 0.048</text>
<line x1="57.1" y1="315" x2="57.1" y2="320.1" stroke="#111" stroke-width="0.55" />
<line x1="57.1" y1="328.9" x2="57.1" y2="332.2" stroke="#111" stroke-width="0.55" />
<rect x="51.7" y="320.1" width="10.8" height="8.8" fill="#fff" stroke="#111" stroke-width="0.55" />
<line x1="51.7" y1="324.5" x2="62.5" y2="324.5" stroke="#222" stroke-width="0.6" />
<circle cx="57.1" cy="325" r="0.7" fill="#000" stroke="none" stroke-width="0" />
<circle cx="57.1" cy="315.2" r="1.25" fill="#fff" stroke="#222" stroke-width="0.6" />
<circle cx="61.7" cy="320.5" r="1.25" fill="#fff" stroke="#222" stroke-width="0.6" />
<circle cx="63.2" cy="323.5" r="1.25" fill="#fff" stroke="#222" stroke-width="0.6" />
<circle cx="57.7" cy="323.2" r="1.25" fill="#fff" stroke="#222" stroke-width="0.6" />
<circle cx="63.7" cy="328" r="1.25" fill="#fff" stroke="#222" stroke-width="0.6" />
<circle cx="57.1" cy="332.5" r="1.25" fill="#fff" stroke="#222" stroke-width="0.6" />
<line x1="74.55" y1="313.2" x2="74.55" y2="318" stroke="#ff2020" stroke-width="0.55" />
<line x1="74.55" y1="323.8" x2="74.55" y2="328" stroke="#ff2020" stroke-width="0.55" />
<rect x="69.15" y="318" width="10.8" height="5.8" fill="#fff" stroke="#ff2020" stroke-width="0.55" />
<line x1="69.15" y1="320.5" x2="79.95" y2="320.5" stroke="#ff2020" stroke-width="0.6" />
<circle cx="74.55" cy="321.4" r="0.7" fill="#000" stroke="none" stroke-width="0" />
<circle cx="74.55" cy="313.5" r="1.25" fill="#fff" stroke="#333" stroke-width="0.6" />
<circle cx="77.65" cy="318.4" r="1.25" fill="#fff" stroke="#333" stroke-width="0.6" />
<circle cx="76.65" cy="322.5" r="1.25" fill="#fff" stroke="#333" stroke-width="0.6" />
<circle cx="74.55" cy="327.5" r="1.25" fill="#fff" stroke="#333" stroke-width="0.6" />
<line x1="92" y1="249.2" x2="92" y2="254.4" stroke="#444" stroke-width="0.55" />
<line x1="92" y1="280.9" x2="92" y2="296.3" stroke="#444" stroke-width="0.55" />
<rect x="86.6" y="254.4" width="10.8" height="26.5" fill="#c4c4c4" stroke="#444" stroke-width="0.55" />
<line x1="86.6" y1="270.4" x2="97.4" y2="270.4" stroke="#222" stroke-width="0.6" />
<circle cx="92" cy="268.15" r="0.7" fill="#000" stroke="none" stroke-width="0" />
<circle cx="92" cy="249.2" r="1.25" fill="#fff" stroke="#333" stroke-width="0.6" />
<circle cx="97.1" cy="254.5" r="1.25" fill="#fff" stroke="#333" stroke-width="0.6" />
<circle cx="95.6" cy="267" r="1.25" fill="#fff" stroke="#333" stroke-width="0.6" />
<circle cx="93.6" cy="269.5" r="1.25" fill="#fff" stroke="#333" stroke-width="0.6" />
<circle cx="96.8" cy="281" r="1.25" fill="#fff" stroke="#333" stroke-width="0.6" />
<circle cx="92" cy="296.3" r="1.25" fill="#fff" stroke="#333" stroke-width="0.6" />
<line x1="109.45" y1="260.3" x2="109.45" y2="282.1" stroke="#333" stroke-width="0.55" />
<line x1="109.45" y1="304.2" x2="109.45" y2="306.5" stroke="#333" stroke-width="0.55" />
<rect x="104.05" y="282.1" width="10.8" height="22.1" fill="#ff0000" stroke="#333" stroke-width="0.55" />
<line x1="104.05" y1="295.3" x2="114.85" y2="295.3" stroke="#222" stroke-width="0.6" />
<circle cx="109.45" cy="293.65" r="0.7" fill="#000" stroke="none" stroke-width="0" />
<circle cx="109.45" cy="260.3" r="1.25" fill="#f08080" stroke="#222" stroke-width="0.6" />
<circle cx="110.05" cy="282" r="1.25" fill="#f08080" stroke="#222" stroke-width="0.6" />
<circle cx="113.05" cy="282" r="1.25" fill="#f08080" stroke="#222" stroke-width="0.6" />
<circle cx="112.05" cy="295.3" r="1.25" fill="#b0b0f0" stroke="#222" stroke-width="0.6" />
<circle cx="109.05" cy="303.8" r="1.25" fill="#b0b0f0" stroke="#222" stroke-width="0.6" />
<circle cx="112.55" cy="303.8" r="1.25" fill="#b0b0f0" stroke="#222" stroke-width="0.6" />
<circle cx="115.05" cy="307.3" r="1.25" fill="#b0b0f0" stroke="#222" stroke-width="0.6" />
<text transform="translate(173.1,225.6) scale(1,1.13)" font-size="7.45" font-weight="bold" text-anchor="middle" fill="#000" >CXCL8</text>
<line x1="138.3" y1="233.2" x2="138.3" y2="336.1" stroke="#000" stroke-width="0.7" />
<line x1="138" y1="335.7" x2="207.5" y2="335.7" stroke="#000" stroke-width="0.7" />
<line x1="135.8" y1="335.7" x2="138.3" y2="335.7" stroke="#000" stroke-width="0.6" />
<text transform="translate(134.7,337.3) scale(1,1.13)" font-size="4.6" font-weight="bold" text-anchor="end" fill="#222" >0</text>
<line x1="137" y1="325.48" x2="138.3" y2="325.48" stroke="#000" stroke-width="0.6" />
<line x1="135.8" y1="315.26" x2="138.3" y2="315.26" stroke="#000" stroke-width="0.6" />
<text transform="translate(134.7,316.86) scale(1,1.13)" font-size="4.6" font-weight="bold" text-anchor="end" fill="#222" >20</text>
<line x1="137" y1="305.04" x2="138.3" y2="305.04" stroke="#000" stroke-width="0.6" />
<line x1="135.8" y1="294.82" x2="138.3" y2="294.82" stroke="#000" stroke-width="0.6" />
<text transform="translate(134.7,296.42) scale(1,1.13)" font-size="4.6" font-weight="bold" text-anchor="end" fill="#222" >40</text>
<line x1="137" y1="284.6" x2="138.3" y2="284.6" stroke="#000" stroke-width="0.6" />
<line x1="135.8" y1="274.38" x2="138.3" y2="274.38" stroke="#000" stroke-width="0.6" />
<text transform="translate(134.7,275.98) scale(1,1.13)" font-size="4.6" font-weight="bold" text-anchor="end" fill="#222" >60</text>
<line x1="137" y1="264.16" x2="138.3" y2="264.16" stroke="#000" stroke-width="0.6" />
<line x1="135.8" y1="253.94" x2="138.3" y2="253.94" stroke="#000" stroke-width="0.6" />
<text transform="translate(134.7,255.54) scale(1,1.13)" font-size="4.6" font-weight="bold" text-anchor="end" fill="#222" >80</text>
<line x1="137" y1="243.72" x2="138.3" y2="243.72" stroke="#000" stroke-width="0.6" />
<line x1="135.8" y1="233.5" x2="138.3" y2="233.5" stroke="#000" stroke-width="0.6" />
<text transform="translate(134.7,235.1) scale(1,1.13)" font-size="4.6" font-weight="bold" text-anchor="end" fill="#222" >100</text>
<line x1="145.9" y1="232.4" x2="199.1" y2="232.4" stroke="#777" stroke-width="0.9" />
<line x1="145.9" y1="232" x2="145.9" y2="235.4" stroke="#444" stroke-width="0.7" />
<line x1="181.5" y1="232" x2="181.5" y2="235.4" stroke="#444" stroke-width="0.7" />
<line x1="199.1" y1="232" x2="199.1" y2="235.4" stroke="#444" stroke-width="0.7" />
<text transform="translate(159.4,231.2) scale(1,1.13)" font-size="4.5" text-anchor="middle" fill="#555" >p= 0.001</text>
<text transform="translate(190.6,231.2) scale(1,1.13)" font-size="4.5" text-anchor="middle" fill="#555" >p= 0.002</text>
<line x1="146.7" y1="329.1" x2="146.7" y2="329.1" stroke="#111" stroke-width="0.55" />
<line x1="146.7" y1="334.7" x2="146.7" y2="334.7" stroke="#111" stroke-width="0.55" />
<rect x="141.3" y="329.1" width="10.8" height="5.6" fill="#fff" stroke="#111" stroke-width="0.55" />
<line x1="141.3" y1="331.5" x2="152.1" y2="331.5" stroke="#222" stroke-width="0.6" />
<circle cx="146.7" cy="332.4" r="0.7" fill="#000" stroke="none" stroke-width="0" />
<circle cx="146.6" cy="320.3" r="1.25" fill="#fff" stroke="#222" stroke-width="0.6" />
<circle cx="144.3" cy="330.5" r="1.25" fill="#fff" stroke="#222" stroke-width="0.6" />
<circle cx="148.3" cy="331.2" r="1.25" fill="#fff" stroke="#222" stroke-width="0.6" />
<circle cx="151.3" cy="333" r="1.25" fill="#fff" stroke="#222" stroke-width="0.6" />
<circle cx="145.8" cy="334.3" r="1.25" fill="#fff" stroke="#222" stroke-width="0.6" />
<line x1="164.15" y1="319.6" x2="164.15" y2="319.6" stroke="#ff2020" stroke-width="0.55" />
<line x1="164.15" y1="331.1" x2="164.15" y2="334.5" stroke="#ff2020" stroke-width="0.55" />
<rect x="158.75" y="319.6" width="10.8" height="11.5" fill="#fff" stroke="#ff2020" stroke-width="0.55" />
<line x1="158.75" y1="326" x2="169.55" y2="326" stroke="#ff2020" stroke-width="0.6" />
<circle cx="164.15" cy="325.85" r="0.7" fill="#000" stroke="none" stroke-width="0" />
<circle cx="164.75" cy="319.6" r="1.25" fill="#fff" stroke="#333" stroke-width="0.6" />
<circle cx="167.25" cy="319.6" r="1.25" fill="#fff" stroke="#333" stroke-width="0.6" />
<circle cx="165.75" cy="326.2" r="1.25" fill="#fff" stroke="#333" stroke-width="0.6" />
<circle cx="163.25" cy="330.5" r="1.25" fill="#fff" stroke="#333" stroke-width="0.6" />
<circle cx="167.75" cy="330" r="1.25" fill="#fff" stroke="#333" stroke-width="0.6" />
<circle cx="164.15" cy="334.5" r="1.25" fill="#fff" stroke="#333" stroke-width="0.6" />
<line x1="181.6" y1="248.8" x2="181.6" y2="260.4" stroke="#444" stroke-width="0.55" />
<line x1="181.6" y1="283.6" x2="181.6" y2="289.2" stroke="#444" stroke-width="0.55" />
<rect x="176.2" y="260.4" width="10.8" height="23.2" fill="#c4c4c4" stroke="#444" stroke-width="0.55" />
<line x1="176.2" y1="267.3" x2="187" y2="267.3" stroke="#222" stroke-width="0.6" />
<circle cx="181.6" cy="272.5" r="0.7" fill="#000" stroke="none" stroke-width="0" />
<circle cx="181.6" cy="249" r="1.25" fill="#fff" stroke="#333" stroke-width="0.6" />
<circle cx="182.2" cy="260.4" r="1.25" fill="#fff" stroke="#333" stroke-width="0.6" />
<circle cx="186.2" cy="260.4" r="1.25" fill="#fff" stroke="#333" stroke-width="0.6" />
<circle cx="185.2" cy="274" r="1.25" fill="#fff" stroke="#333" stroke-width="0.6" />
<circle cx="181.2" cy="283.6" r="1.25" fill="#fff" stroke="#333" stroke-width="0.6" />
<circle cx="181.6" cy="289.2" r="1.25" fill="#fff" stroke="#333" stroke-width="0.6" />
<line x1="199.05" y1="255.8" x2="199.05" y2="255.8" stroke="#333" stroke-width="0.55" />
<line x1="199.05" y1="314.8" x2="199.05" y2="318.8" stroke="#333" stroke-width="0.55" />
<rect x="193.65" y="255.8" width="10.8" height="59" fill="#ff0000" stroke="#333" stroke-width="0.55" />
<line x1="193.65" y1="288.5" x2="204.45" y2="288.5" stroke="#222" stroke-width="0.6" />
<circle cx="199.05" cy="285.8" r="0.7" fill="#000" stroke="none" stroke-width="0" />
<circle cx="202.15" cy="256" r="1.25" fill="#f08080" stroke="#222" stroke-width="0.6" />
<circle cx="199.65" cy="257.5" r="1.25" fill="#f08080" stroke="#222" stroke-width="0.6" />
<circle cx="201.15" cy="270" r="1.25" fill="#f08080" stroke="#222" stroke-width="0.6" />
<circle cx="201.15" cy="288.5" r="1.25" fill="#b0b0f0" stroke="#222" stroke-width="0.6" />
<circle cx="203.15" cy="307" r="1.25" fill="#b0b0f0" stroke="#222" stroke-width="0.6" />
<circle cx="196.45" cy="314" r="1.25" fill="#b0b0f0" stroke="#222" stroke-width="0.6" />
<circle cx="199.05" cy="318.8" r="1.25" fill="#b0b0f0" stroke="#222" stroke-width="0.6" />
<text transform="translate(263.4,225.6) scale(1,1.13)" font-size="7.45" font-weight="bold" text-anchor="middle" fill="#000" >CCL5</text>
<line x1="228.6" y1="233.2" x2="228.6" y2="336.1" stroke="#000" stroke-width="0.7" />
<line x1="228.3" y1="335.7" x2="297.8" y2="335.7" stroke="#000" stroke-width="0.7" />
<line x1="226.1" y1="335.7" x2="228.6" y2="335.7" stroke="#000" stroke-width="0.6" />
<text transform="translate(225,337.3) scale(1,1.13)" font-size="4.6" font-weight="bold" text-anchor="end" fill="#222" >0</text>
<line x1="227.3" y1="322.93" x2="228.6" y2="322.93" stroke="#000" stroke-width="0.6" />
<line x1="226.1" y1="310.15" x2="228.6" y2="310.15" stroke="#000" stroke-width="0.6" />
<text transform="translate(225,311.75) scale(1,1.13)" font-size="4.6" font-weight="bold" text-anchor="end" fill="#222" >20</text>
<line x1="227.3" y1="297.38" x2="228.6" y2="297.38" stroke="#000" stroke-width="0.6" />
<line x1="226.1" y1="284.6" x2="228.6" y2="284.6" stroke="#000" stroke-width="0.6" />
<text transform="translate(225,286.2) scale(1,1.13)" font-size="4.6" font-weight="bold" text-anchor="end" fill="#222" >40</text>
<line x1="227.3" y1="271.82" x2="228.6" y2="271.82" stroke="#000" stroke-width="0.6" />
<line x1="226.1" y1="259.05" x2="228.6" y2="259.05" stroke="#000" stroke-width="0.6" />
<text transform="translate(225,260.65) scale(1,1.13)" font-size="4.6" font-weight="bold" text-anchor="end" fill="#222" >60</text>
<line x1="227.3" y1="246.28" x2="228.6" y2="246.28" stroke="#000" stroke-width="0.6" />
<line x1="226.1" y1="233.5" x2="228.6" y2="233.5" stroke="#000" stroke-width="0.6" />
<text transform="translate(225,235.1) scale(1,1.13)" font-size="4.6" font-weight="bold" text-anchor="end" fill="#222" >80</text>
<line x1="236.2" y1="232.4" x2="289.4" y2="232.4" stroke="#777" stroke-width="0.9" />
<line x1="236.2" y1="232" x2="236.2" y2="235.4" stroke="#444" stroke-width="0.7" />
<line x1="271.8" y1="232" x2="271.8" y2="235.4" stroke="#444" stroke-width="0.7" />
<line x1="289.4" y1="232" x2="289.4" y2="235.4" stroke="#444" stroke-width="0.7" />
<text transform="translate(249.7,231.2) scale(1,1.13)" font-size="4.5" text-anchor="middle" fill="#555" >p= 0.003</text>
<text transform="translate(280.9,231.2) scale(1,1.13)" font-size="4.5" text-anchor="middle" fill="#555" >p= 0.027</text>
<line x1="237" y1="328.1" x2="237" y2="328.1" stroke="#111" stroke-width="0.55" />
<line x1="237" y1="333.7" x2="237" y2="333.7" stroke="#111" stroke-width="0.55" />
<rect x="231.6" y="328.1" width="10.8" height="5.6" fill="#fff" stroke="#111" stroke-width="0.55" />
<line x1="231.6" y1="331.5" x2="242.4" y2="331.5" stroke="#222" stroke-width="0.6" />
<circle cx="237" cy="331.4" r="0.7" fill="#000" stroke="none" stroke-width="0" />
<circle cx="236.6" cy="315.3" r="1.25" fill="#fff" stroke="#222" stroke-width="0.6" />
<circle cx="234.6" cy="329.5" r="1.25" fill="#fff" stroke="#222" stroke-width="0.6" />
<circle cx="237.6" cy="328.8" r="1.25" fill="#fff" stroke="#222" stroke-width="0.6" />
<circle cx="240.6" cy="331" r="1.25" fill="#fff" stroke="#222" stroke-width="0.6" />
<circle cx="236.1" cy="332.8" r="1.25" fill="#fff" stroke="#222" stroke-width="0.6" />
<circle cx="239.6" cy="333" r="1.25" fill="#fff" stroke="#222" stroke-width="0.6" />
<line x1="254.45" y1="303.8" x2="254.45" y2="321" stroke="#ff2020" stroke-width="0.55" />
<line x1="254.45" y1="333.7" x2="254.45" y2="335" stroke="#ff2020" stroke-width="0.55" />
<rect x="249.05" y="321" width="10.8" height="12.7" fill="#fff" stroke="#ff2020" stroke-width="0.55" />
<line x1="249.05" y1="324.4" x2="259.85" y2="324.4" stroke="#ff2020" stroke-width="0.6" />
<circle cx="254.45" cy="327.85" r="0.7" fill="#000" stroke="none" stroke-width="0" />
<circle cx="254.45" cy="303.8" r="1.25" fill="#fff" stroke="#333" stroke-width="0.6" />
<circle cx="254.05" cy="321.2" r="1.25" fill="#fff" stroke="#333" stroke-width="0.6" />
<circle cx="257.55" cy="321.5" r="1.25" fill="#fff" stroke="#333" stroke-width="0.6" />
<circle cx="255.55" cy="326.5" r="1.25" fill="#fff" stroke="#333" stroke-width="0.6" />
<circle cx="251.55" cy="333.3" r="1.25" fill="#fff" stroke="#333" stroke-width="0.6" />
<circle cx="254.45" cy="334.8" r="1.25" fill="#fff" stroke="#333" stroke-width="0.6" />
<line x1="271.9" y1="258.2" x2="271.9" y2="269.2" stroke="#444" stroke-width="0.55" />
<line x1="271.9" y1="318.4" x2="271.9" y2="324.5" stroke="#444" stroke-width="0.55" />
<rect x="266.5" y="269.2" width="10.8" height="49.2" fill="#c4c4c4" stroke="#444" stroke-width="0.55" />
<line x1="266.5" y1="314.7" x2="277.3" y2="314.7" stroke="#222" stroke-width="0.6" />
<circle cx="271.9" cy="294.3" r="0.7" fill="#000" stroke="none" stroke-width="0" />
<circle cx="271.9" cy="258.2" r="1.25" fill="#fff" stroke="#333" stroke-width="0.6" />
<circle cx="273" cy="269.2" r="1.25" fill="#fff" stroke="#333" stroke-width="0.6" />
<circle cx="269.5" cy="313" r="1.25" fill="#fff" stroke="#333" stroke-width="0.6" />
<circle cx="276" cy="315.5" r="1.25" fill="#fff" stroke="#333" stroke-width="0.6" />
<circle cx="271.5" cy="318" r="1.25" fill="#fff" stroke="#333" stroke-width="0.6" />
<circle cx="271.9" cy="324.5" r="1.25" fill="#fff" stroke="#333" stroke-width="0.6" />
<line x1="289.35" y1="321" x2="289.35" y2="322.1" stroke="#333" stroke-width="0.55" />
<line x1="289.35" y1="327.4" x2="289.35" y2="329" stroke="#333" stroke-width="0.55" />
<rect x="283.95" y="322.1" width="10.8" height="5.3" fill="#ff0000" stroke="#333" stroke-width="0.55" />
<line x1="283.95" y1="324.5" x2="294.75" y2="324.5" stroke="#222" stroke-width="0.6" />
<circle cx="289.35" cy="325.25" r="0.7" fill="#000" stroke="none" stroke-width="0" />
<circle cx="289.95" cy="322.2" r="1.25" fill="#f08080" stroke="#222" stroke-width="0.6" />
<circle cx="289.35" cy="321.5" r="1.25" fill="#f08080" stroke="#222" stroke-width="0.6" />
<circle cx="287.95" cy="326.5" r="1.25" fill="#b0b0f0" stroke="#222" stroke-width="0.6" />
<circle cx="290.95" cy="327.5" r="1.25" fill="#b0b0f0" stroke="#222" stroke-width="0.6" />
<circle cx="293.95" cy="326.5" r="1.25" fill="#b0b0f0" stroke="#222" stroke-width="0.6" />
<text transform="translate(353.4,225.6) scale(1,1.13)" font-size="7.45" font-weight="bold" text-anchor="middle" fill="#000" >IL1a</text>
<line x1="318.6" y1="233.2" x2="318.6" y2="336.1" stroke="#000" stroke-width="0.7" />
<line x1="318.3" y1="335.7" x2="387.8" y2="335.7" stroke="#000" stroke-width="0.7" />
<line x1="316.1" y1="335.7" x2="318.6" y2="335.7" stroke="#000" stroke-width="0.6" />
<text transform="translate(315,337.3) scale(1,1.13)" font-size="4.6" font-weight="bold" text-anchor="end" fill="#222" >0</text>
<line x1="317.3" y1="327.18" x2="318.6" y2="327.18" stroke="#000" stroke-width="0.6" />
<line x1="316.1" y1="318.67" x2="318.6" y2="318.67" stroke="#000" stroke-width="0.6" />
<text transform="translate(315,320.27) scale(1,1.13)" font-size="4.6" font-weight="bold" text-anchor="end" fill="#222" >2</text>
<line x1="317.3" y1="310.15" x2="318.6" y2="310.15" stroke="#000" stroke-width="0.6" />
<line x1="316.1" y1="301.63" x2="318.6" y2="301.63" stroke="#000" stroke-width="0.6" />
<text transform="translate(315,303.23) scale(1,1.13)" font-size="4.6" font-weight="bold" text-anchor="end" fill="#222" >4</text>
<line x1="317.3" y1="293.12" x2="318.6" y2="293.12" stroke="#000" stroke-width="0.6" />
<line x1="316.1" y1="284.6" x2="318.6" y2="284.6" stroke="#000" stroke-width="0.6" />
<text transform="translate(315,286.2) scale(1,1.13)" font-size="4.6" font-weight="bold" text-anchor="end" fill="#222" >6</text>
<line x1="317.3" y1="276.08" x2="318.6" y2="276.08" stroke="#000" stroke-width="0.6" />
<line x1="316.1" y1="267.57" x2="318.6" y2="267.57" stroke="#000" stroke-width="0.6" />
<text transform="translate(315,269.17) scale(1,1.13)" font-size="4.6" font-weight="bold" text-anchor="end" fill="#222" >8</text>
<line x1="317.3" y1="259.05" x2="318.6" y2="259.05" stroke="#000" stroke-width="0.6" />
<line x1="316.1" y1="250.53" x2="318.6" y2="250.53" stroke="#000" stroke-width="0.6" />
<text transform="translate(315,252.13) scale(1,1.13)" font-size="4.6" font-weight="bold" text-anchor="end" fill="#222" >10</text>
<line x1="317.3" y1="242.02" x2="318.6" y2="242.02" stroke="#000" stroke-width="0.6" />
<line x1="316.1" y1="233.5" x2="318.6" y2="233.5" stroke="#000" stroke-width="0.6" />
<text transform="translate(315,235.1) scale(1,1.13)" font-size="4.6" font-weight="bold" text-anchor="end" fill="#222" >12</text>
<line x1="326.2" y1="232.4" x2="379.4" y2="232.4" stroke="#777" stroke-width="0.9" />
<line x1="326.2" y1="232" x2="326.2" y2="235.4" stroke="#444" stroke-width="0.7" />
<line x1="361.8" y1="232" x2="361.8" y2="235.4" stroke="#444" stroke-width="0.7" />
<line x1="379.4" y1="232" x2="379.4" y2="235.4" stroke="#444" stroke-width="0.7" />
<text transform="translate(339.7,231.2) scale(1,1.13)" font-size="4.5" text-anchor="middle" fill="#555" >p= 0.001</text>
<text transform="translate(370.9,231.2) scale(1,1.13)" font-size="4.5" text-anchor="middle" fill="#555" >p= 0.002</text>
<line x1="327" y1="311.9" x2="327" y2="322.1" stroke="#111" stroke-width="0.55" />
<line x1="327" y1="331.1" x2="327" y2="334" stroke="#111" stroke-width="0.55" />
<rect x="321.6" y="322.1" width="10.8" height="9" fill="#fff" stroke="#111" stroke-width="0.55" />
<line x1="321.6" y1="328" x2="332.4" y2="328" stroke="#222" stroke-width="0.6" />
<circle cx="327" cy="327.1" r="0.7" fill="#000" stroke="none" stroke-width="0" />
<circle cx="327" cy="311.9" r="1.25" fill="#fff" stroke="#222" stroke-width="0.6" />
<circle cx="325.6" cy="322" r="1.25" fill="#fff" stroke="#222" stroke-width="0.6" />
<circle cx="328.6" cy="326.5" r="1.25" fill="#fff" stroke="#222" stroke-width="0.6" />
<circle cx="330.6" cy="327.5" r="1.25" fill="#fff" stroke="#222" stroke-width="0.6" />
<circle cx="326.6" cy="330.5" r="1.25" fill="#fff" stroke="#222" stroke-width="0.6" />
<circle cx="329.6" cy="332.3" r="1.25" fill="#fff" stroke="#222" stroke-width="0.6" />
<circle cx="332.6" cy="332.3" r="1.25" fill="#fff" stroke="#222" stroke-width="0.6" />
<line x1="344.45" y1="307" x2="344.45" y2="312.8" stroke="#ff2020" stroke-width="0.55" />
<line x1="344.45" y1="327.4" x2="344.45" y2="332.3" stroke="#ff2020" stroke-width="0.55" />
<rect x="339.05" y="312.8" width="10.8" height="14.6" fill="#fff" stroke="#ff2020" stroke-width="0.55" />
<line x1="339.05" y1="324" x2="349.85" y2="324" stroke="#ff2020" stroke-width="0.6" />
<circle cx="344.45" cy="320.6" r="0.7" fill="#000" stroke="none" stroke-width="0" />
<circle cx="344.45" cy="307" r="1.25" fill="#fff" stroke="#333" stroke-width="0.6" />
<circle cx="348.55" cy="313" r="1.25" fill="#fff" stroke="#333" stroke-width="0.6" />
<circle cx="349.05" cy="322.8" r="1.25" fill="#fff" stroke="#333" stroke-width="0.6" />
<circle cx="346.05" cy="325.5" r="1.25" fill="#fff" stroke="#333" stroke-width="0.6" />
<circle cx="344.45" cy="332.3" r="1.25" fill="#fff" stroke="#333" stroke-width="0.6" />
<circle cx="343.55" cy="327" r="1.25" fill="#fff" stroke="#333" stroke-width="0.6" />
<line x1="361.9" y1="257.5" x2="361.9" y2="268" stroke="#444" stroke-width="0.55" />
<line x1="361.9" y1="288.5" x2="361.9" y2="290" stroke="#444" stroke-width="0.55" />
<rect x="356.5" y="268" width="10.8" height="20.5" fill="#c4c4c4" stroke="#444" stroke-width="0.55" />
<line x1="356.5" y1="275" x2="367.3" y2="275" stroke="#222" stroke-width="0.6" />
<circle cx="361.9" cy="278.75" r="0.7" fill="#000" stroke="none" stroke-width="0" />
<circle cx="361.9" cy="257.5" r="1.25" fill="#fff" stroke="#333" stroke-width="0.6" />
<circle cx="365.5" cy="266.4" r="1.25" fill="#fff" stroke="#333" stroke-width="0.6" />
<circle cx="360.5" cy="272.5" r="1.25" fill="#fff" stroke="#333" stroke-width="0.6" />
<circle cx="364" cy="273" r="1.25" fill="#fff" stroke="#333" stroke-width="0.6" />
<circle cx="360.5" cy="286.5" r="1.25" fill="#fff" stroke="#333" stroke-width="0.6" />
<circle cx="363.5" cy="288" r="1.25" fill="#fff" stroke="#333" stroke-width="0.6" />
<circle cx="365.5" cy="288.5" r="1.25" fill="#fff" stroke="#333" stroke-width="0.6" />
<line x1="379.35" y1="246.1" x2="379.35" y2="275.8" stroke="#333" stroke-width="0.55" />
<line x1="379.35" y1="308.7" x2="379.35" y2="310.5" stroke="#333" stroke-width="0.55" />
<rect x="373.95" y="275.8" width="10.8" height="32.9" fill="#ff0000" stroke="#333" stroke-width="0.55" />
<line x1="373.95" y1="288.5" x2="384.75" y2="288.5" stroke="#222" stroke-width="0.6" />
<circle cx="379.35" cy="292.75" r="0.7" fill="#000" stroke="none" stroke-width="0" />
<circle cx="379.35" cy="246.1" r="1.25" fill="#f08080" stroke="#222" stroke-width="0.6" />
<circle cx="379.95" cy="276.3" r="1.25" fill="#f08080" stroke="#222" stroke-width="0.6" />
<circle cx="380.45" cy="286" r="1.25" fill="#f08080" stroke="#222" stroke-width="0.6" />
<circle cx="383.45" cy="287" r="1.25" fill="#f08080" stroke="#222" stroke-width="0.6" />
<circle cx="380.95" cy="305.5" r="1.25" fill="#b0b0f0" stroke="#222" stroke-width="0.6" />
<circle cx="378.45" cy="308.7" r="1.25" fill="#b0b0f0" stroke="#222" stroke-width="0.6" />
<circle cx="383.45" cy="308.2" r="1.25" fill="#b0b0f0" stroke="#222" stroke-width="0.6" />
<text transform="translate(443.4,225.6) scale(1,1.13)" font-size="7.45" font-weight="bold" text-anchor="middle" fill="#000" >IL1b</text>
<line x1="408.6" y1="233.2" x2="408.6" y2="336.1" stroke="#000" stroke-width="0.7" />
<line x1="408.3" y1="335.7" x2="477.8" y2="335.7" stroke="#000" stroke-width="0.7" />
<line x1="406.1" y1="335.7" x2="408.6" y2="335.7" stroke="#000" stroke-width="0.6" />
<text transform="translate(405,337.3) scale(1,1.13)" font-size="4.6" font-weight="bold" text-anchor="end" fill="#222" >0</text>
<line x1="407.3" y1="322.93" x2="408.6" y2="322.93" stroke="#000" stroke-width="0.6" />
<line x1="406.1" y1="310.15" x2="408.6" y2="310.15" stroke="#000" stroke-width="0.6" />
<text transform="translate(405,311.75) scale(1,1.13)" font-size="4.6" font-weight="bold" text-anchor="end" fill="#222" >20</text>
<line x1="407.3" y1="297.38" x2="408.6" y2="297.38" stroke="#000" stroke-width="0.6" />
<line x1="406.1" y1="284.6" x2="408.6" y2="284.6" stroke="#000" stroke-width="0.6" />
<text transform="translate(405,286.2) scale(1,1.13)" font-size="4.6" font-weight="bold" text-anchor="end" fill="#222" >40</text>
<line x1="407.3" y1="271.82" x2="408.6" y2="271.82" stroke="#000" stroke-width="0.6" />
<line x1="406.1" y1="259.05" x2="408.6" y2="259.05" stroke="#000" stroke-width="0.6" />
<text transform="translate(405,260.65) scale(1,1.13)" font-size="4.6" font-weight="bold" text-anchor="end" fill="#222" >60</text>
<line x1="407.3" y1="246.28" x2="408.6" y2="246.28" stroke="#000" stroke-width="0.6" />
<line x1="406.1" y1="233.5" x2="408.6" y2="233.5" stroke="#000" stroke-width="0.6" />
<text transform="translate(405,235.1) scale(1,1.13)" font-size="4.6" font-weight="bold" text-anchor="end" fill="#222" >80</text>
<line x1="416.2" y1="232.4" x2="469.4" y2="232.4" stroke="#777" stroke-width="0.9" />
<line x1="416.2" y1="232" x2="416.2" y2="235.4" stroke="#444" stroke-width="0.7" />
<line x1="451.8" y1="232" x2="451.8" y2="235.4" stroke="#444" stroke-width="0.7" />
<line x1="469.4" y1="232" x2="469.4" y2="235.4" stroke="#444" stroke-width="0.7" />
<text transform="translate(429.7,231.2) scale(1,1.13)" font-size="4.5" text-anchor="middle" fill="#555" >p= 0.001</text>
<text transform="translate(460.9,231.2) scale(1,1.13)" font-size="4.5" text-anchor="middle" fill="#555" >p= 0.048</text>
<line x1="417" y1="310" x2="417" y2="310" stroke="#111" stroke-width="0.55" />
<line x1="417" y1="328.4" x2="417" y2="331.5" stroke="#111" stroke-width="0.55" />
<rect x="411.6" y="310" width="10.8" height="18.4" fill="#fff" stroke="#111" stroke-width="0.55" />
<line x1="411.6" y1="328" x2="422.4" y2="328" stroke="#222" stroke-width="0.6" />
<circle cx="417" cy="319.7" r="0.7" fill="#000" stroke="none" stroke-width="0" />
<circle cx="416.4" cy="310.2" r="1.25" fill="#fff" stroke="#222" stroke-width="0.6" />
<circle cx="418.6" cy="310.2" r="1.25" fill="#fff" stroke="#222" stroke-width="0.6" />
<circle cx="416.6" cy="328.4" r="1.25" fill="#fff" stroke="#222" stroke-width="0.6" />
<circle cx="419.1" cy="328" r="1.25" fill="#fff" stroke="#222" stroke-width="0.6" />
<circle cx="421.1" cy="328" r="1.25" fill="#fff" stroke="#222" stroke-width="0.6" />
<circle cx="417" cy="332" r="1.25" fill="#fff" stroke="#222" stroke-width="0.6" />
<line x1="434.45" y1="320" x2="434.45" y2="320.9" stroke="#ff2020" stroke-width="0.55" />
<line x1="434.45" y1="323.8" x2="434.45" y2="325" stroke="#ff2020" stroke-width="0.55" />
<rect x="429.05" y="320.9" width="10.8" height="2.9" fill="#fff" stroke="#ff2020" stroke-width="0.55" />
<line x1="429.05" y1="322.4" x2="439.85" y2="322.4" stroke="#ff2020" stroke-width="0.6" />
<circle cx="434.45" cy="322.85" r="0.7" fill="#000" stroke="none" stroke-width="0" />
<circle cx="432.55" cy="321.4" r="1.25" fill="#fff" stroke="#333" stroke-width="0.6" />
<circle cx="435.05" cy="322.4" r="1.25" fill="#fff" stroke="#333" stroke-width="0.6" />
<circle cx="437.05" cy="322.4" r="1.25" fill="#fff" stroke="#333" stroke-width="0.6" />
<circle cx="439.05" cy="321.6" r="1.25" fill="#fff" stroke="#333" stroke-width="0.6" />
<circle cx="434.45" cy="324.5" r="1.25" fill="#fff" stroke="#333" stroke-width="0.6" />
<line x1="451.9" y1="237.3" x2="451.9" y2="243.4" stroke="#444" stroke-width="0.55" />
<line x1="451.9" y1="266.5" x2="451.9" y2="275.3" stroke="#444" stroke-width="0.55" />
<rect x="446.5" y="243.4" width="10.8" height="23.1" fill="#c4c4c4" stroke="#444" stroke-width="0.55" />
<line x1="446.5" y1="257.5" x2="457.3" y2="257.5" stroke="#222" stroke-width="0.6" />
<circle cx="451.9" cy="255.45" r="0.7" fill="#000" stroke="none" stroke-width="0" />
<circle cx="451.9" cy="237.3" r="1.25" fill="#fff" stroke="#333" stroke-width="0.6" />
<circle cx="451.9" cy="238" r="1.25" fill="#fff" stroke="#333" stroke-width="0.6" />
<circle cx="450.5" cy="244" r="1.25" fill="#fff" stroke="#333" stroke-width="0.6" />
<circle cx="453.3" cy="254" r="1.25" fill="#fff" stroke="#333" stroke-width="0.6" />
<circle cx="454.5" cy="257" r="1.25" fill="#fff" stroke="#333" stroke-width="0.6" />
<circle cx="451" cy="262.5" r="1.25" fill="#fff" stroke="#333" stroke-width="0.6" />
<circle cx="451.9" cy="275.3" r="1.25" fill="#fff" stroke="#333" stroke-width="0.6" />
<line x1="469.35" y1="238.8" x2="469.35" y2="247.8" stroke="#333" stroke-width="0.55" />
<line x1="469.35" y1="299.7" x2="469.35" y2="316.5" stroke="#333" stroke-width="0.55" />
<rect x="463.95" y="247.8" width="10.8" height="51.9" fill="#ff0000" stroke="#333" stroke-width="0.55" />
<line x1="463.95" y1="291.6" x2="474.75" y2="291.6" stroke="#222" stroke-width="0.6" />
<circle cx="469.35" cy="274.25" r="0.7" fill="#000" stroke="none" stroke-width="0" />
<circle cx="469.35" cy="238.8" r="1.25" fill="#f08080" stroke="#222" stroke-width="0.6" />
<circle cx="469.45" cy="247.8" r="1.25" fill="#f08080" stroke="#222" stroke-width="0.6" />
<circle cx="470.45" cy="287" r="1.25" fill="#b0b0f0" stroke="#222" stroke-width="0.6" />
<circle cx="465.95" cy="292" r="1.25" fill="#b0b0f0" stroke="#222" stroke-width="0.6" />
<circle cx="472.95" cy="296" r="1.25" fill="#b0b0f0" stroke="#222" stroke-width="0.6" />
<circle cx="469.95" cy="299.7" r="1.25" fill="#b0b0f0" stroke="#222" stroke-width="0.6" />
<circle cx="469.35" cy="316.5" r="1.25" fill="#b0b0f0" stroke="#222" stroke-width="0.6" />
<text transform="translate(534.2,225.6) scale(1,1.13)" font-size="7.45" font-weight="bold" text-anchor="middle" fill="#000" >GM-CSF</text>
<line x1="499.4" y1="233.2" x2="499.4" y2="336.1" stroke="#000" stroke-width="0.7" />
<line x1="499.1" y1="335.7" x2="568.6" y2="335.7" stroke="#000" stroke-width="0.7" />
<line x1="496.9" y1="335.7" x2="499.4" y2="335.7" stroke="#000" stroke-width="0.6" />
<text transform="translate(495.8,337.3) scale(1,1.13)" font-size="4.6" font-weight="bold" text-anchor="end" fill="#222" >0</text>
<line x1="498.1" y1="327.18" x2="499.4" y2="327.18" stroke="#000" stroke-width="0.6" />
<line x1="496.9" y1="318.67" x2="499.4" y2="318.67" stroke="#000" stroke-width="0.6" />
<text transform="translate(495.8,320.27) scale(1,1.13)" font-size="4.6" font-weight="bold" text-anchor="end" fill="#222" >5</text>
<line x1="498.1" y1="310.15" x2="499.4" y2="310.15" stroke="#000" stroke-width="0.6" />
<line x1="496.9" y1="301.63" x2="499.4" y2="301.63" stroke="#000" stroke-width="0.6" />
<text transform="translate(495.8,303.23) scale(1,1.13)" font-size="4.6" font-weight="bold" text-anchor="end" fill="#222" >10</text>
<line x1="498.1" y1="293.12" x2="499.4" y2="293.12" stroke="#000" stroke-width="0.6" />
<line x1="496.9" y1="284.6" x2="499.4" y2="284.6" stroke="#000" stroke-width="0.6" />
<text transform="translate(495.8,286.2) scale(1,1.13)" font-size="4.6" font-weight="bold" text-anchor="end" fill="#222" >15</text>
<line x1="498.1" y1="276.08" x2="499.4" y2="276.08" stroke="#000" stroke-width="0.6" />
<line x1="496.9" y1="267.57" x2="499.4" y2="267.57" stroke="#000" stroke-width="0.6" />
<text transform="translate(495.8,269.17) scale(1,1.13)" font-size="4.6" font-weight="bold" text-anchor="end" fill="#222" >20</text>
<line x1="498.1" y1="259.05" x2="499.4" y2="259.05" stroke="#000" stroke-width="0.6" />
<line x1="496.9" y1="250.53" x2="499.4" y2="250.53" stroke="#000" stroke-width="0.6" />
<text transform="translate(495.8,252.13) scale(1,1.13)" font-size="4.6" font-weight="bold" text-anchor="end" fill="#222" >25</text>
<line x1="498.1" y1="242.02" x2="499.4" y2="242.02" stroke="#000" stroke-width="0.6" />
<line x1="496.9" y1="233.5" x2="499.4" y2="233.5" stroke="#000" stroke-width="0.6" />
<text transform="translate(495.8,235.1) scale(1,1.13)" font-size="4.6" font-weight="bold" text-anchor="end" fill="#222" >30</text>
<line x1="507" y1="232.4" x2="560.2" y2="232.4" stroke="#777" stroke-width="0.9" />
<line x1="507" y1="232" x2="507" y2="235.4" stroke="#444" stroke-width="0.7" />
<line x1="542.6" y1="232" x2="542.6" y2="235.4" stroke="#444" stroke-width="0.7" />
<line x1="560.2" y1="232" x2="560.2" y2="235.4" stroke="#444" stroke-width="0.7" />
<text transform="translate(520.5,231.2) scale(1,1.13)" font-size="4.5" text-anchor="middle" fill="#555" >p= 0.039</text>
<text transform="translate(551.7,231.2) scale(1,1.13)" font-size="4.5" text-anchor="middle" fill="#555" >p= 0.037</text>
<line x1="507.8" y1="317" x2="507.8" y2="318.4" stroke="#111" stroke-width="0.55" />
<line x1="507.8" y1="323.3" x2="507.8" y2="324.5" stroke="#111" stroke-width="0.55" />
<rect x="502.4" y="318.4" width="10.8" height="4.9" fill="#fff" stroke="#111" stroke-width="0.55" />
<line x1="502.4" y1="321" x2="513.2" y2="321" stroke="#222" stroke-width="0.6" />
<circle cx="507.8" cy="321.35" r="0.7" fill="#000" stroke="none" stroke-width="0" />
<circle cx="507.8" cy="317.3" r="1.25" fill="#fff" stroke="#222" stroke-width="0.6" />
<circle cx="507.9" cy="318.4" r="1.25" fill="#fff" stroke="#222" stroke-width="0.6" />
<circle cx="510.4" cy="319.3" r="1.25" fill="#fff" stroke="#222" stroke-width="0.6" />
<circle cx="506.4" cy="322.2" r="1.25" fill="#fff" stroke="#222" stroke-width="0.6" />
<circle cx="509.4" cy="322.7" r="1.25" fill="#fff" stroke="#222" stroke-width="0.6" />
<circle cx="511.9" cy="321" r="1.25" fill="#fff" stroke="#222" stroke-width="0.6" />
<line x1="525.25" y1="320" x2="525.25" y2="320.9" stroke="#ff2020" stroke-width="0.55" />
<line x1="525.25" y1="323.3" x2="525.25" y2="324" stroke="#ff2020" stroke-width="0.55" />
<rect x="519.85" y="320.9" width="10.8" height="2.4" fill="#fff" stroke="#ff2020" stroke-width="0.55" />
<line x1="519.85" y1="322" x2="530.65" y2="322" stroke="#ff2020" stroke-width="0.6" />
<circle cx="525.25" cy="322.6" r="0.7" fill="#000" stroke="none" stroke-width="0" />
<circle cx="523.35" cy="321.3" r="1.25" fill="#fff" stroke="#333" stroke-width="0.6" />
<circle cx="525.85" cy="321.8" r="1.25" fill="#fff" stroke="#333" stroke-width="0.6" />
<circle cx="528.35" cy="321.2" r="1.25" fill="#fff" stroke="#333" stroke-width="0.6" />
<circle cx="524.85" cy="323.3" r="1.25" fill="#fff" stroke="#333" stroke-width="0.6" />
<circle cx="528.85" cy="323.3" r="1.25" fill="#fff" stroke="#333" stroke-width="0.6" />
<line x1="542.7" y1="300.2" x2="542.7" y2="300.2" stroke="#444" stroke-width="0.55" />
<line x1="542.7" y1="317.2" x2="542.7" y2="319" stroke="#444" stroke-width="0.55" />
<rect x="537.3" y="300.2" width="10.8" height="17" fill="#c4c4c4" stroke="#444" stroke-width="0.55" />
<line x1="537.3" y1="314.8" x2="548.1" y2="314.8" stroke="#222" stroke-width="0.6" />
<circle cx="542.7" cy="309.2" r="0.7" fill="#000" stroke="none" stroke-width="0" />
<circle cx="543.8" cy="245.3" r="1.25" fill="#fff" stroke="#333" stroke-width="0.6" />
<circle cx="543.3" cy="299.8" r="1.25" fill="#fff" stroke="#333" stroke-width="0.6" />
<circle cx="543.3" cy="312" r="1.25" fill="#fff" stroke="#333" stroke-width="0.6" />
<circle cx="541.3" cy="316" r="1.25" fill="#fff" stroke="#333" stroke-width="0.6" />
<circle cx="544.3" cy="316" r="1.25" fill="#fff" stroke="#333" stroke-width="0.6" />
<circle cx="546.3" cy="317.2" r="1.25" fill="#fff" stroke="#333" stroke-width="0.6" />
<circle cx="542.7" cy="318.3" r="1.25" fill="#fff" stroke="#333" stroke-width="0.6" />
<line x1="560.15" y1="314.5" x2="560.15" y2="316" stroke="#333" stroke-width="0.55" />
<line x1="560.15" y1="320.9" x2="560.15" y2="322" stroke="#333" stroke-width="0.55" />
<rect x="554.75" y="316" width="10.8" height="4.9" fill="#ff0000" stroke="#333" stroke-width="0.55" />
<line x1="554.75" y1="318.5" x2="565.55" y2="318.5" stroke="#222" stroke-width="0.6" />
<circle cx="560.15" cy="318.95" r="0.7" fill="#000" stroke="none" stroke-width="0" />
<circle cx="559.25" cy="316.8" r="1.25" fill="#f08080" stroke="#222" stroke-width="0.6" />
<circle cx="561.75" cy="317.5" r="1.25" fill="#f08080" stroke="#222" stroke-width="0.6" />
<circle cx="564.25" cy="318.2" r="1.25" fill="#f08080" stroke="#222" stroke-width="0.6" />
<circle cx="559.75" cy="320.3" r="1.25" fill="#b0b0f0" stroke="#222" stroke-width="0.6" />
<circle cx="562.75" cy="320.8" r="1.25" fill="#b0b0f0" stroke="#222" stroke-width="0.6" />
<rect x="567" y="222.3" width="6.7" height="5.5" fill="#fff" stroke="#222" stroke-width="0.7" />
<text transform="translate(574.9,227.2) scale(1,1.13)" font-size="6.05" font-weight="bold" text-anchor="start" fill="#000" >Vehicle (n=6)</text>
<rect x="567" y="228.7" width="6.7" height="5.5" fill="#fff" stroke="#ff2020" stroke-width="0.7" />
<text transform="translate(574.9,233.6) scale(1,1.13)" font-size="6.05" font-weight="bold" text-anchor="start" fill="#000" >Metformin (n=6)</text>
<rect x="567" y="235.3" width="6.7" height="5.5" fill="#c0c0c0" stroke="#444" stroke-width="0.7" />
<text transform="translate(574.9,240.2) scale(1,1.13)" font-size="6.05" font-weight="bold" text-anchor="start" fill="#000" >RTX (n=6)</text>
<rect x="567" y="241.8" width="6.7" height="5.5" fill="#ff0000" stroke="#333" stroke-width="0.7" />
<text transform="translate(574.9,246.7) scale(1,1.13)" font-size="6.05" font-weight="bold" text-anchor="start" fill="#000" >RTX + Metformin (n=7)</text>
<circle cx="571.1" cy="259.9" r="1.55" fill="#9090e0" stroke="#333" stroke-width="0.7" />
<text transform="translate(576.4,262.4) scale(1,1.13)" font-size="5.95" text-anchor="start" fill="#222" >RTX + Metformin-treated tumors with</text>
<text transform="translate(576.4,269.7) scale(1,1.13)" font-size="5.95" text-anchor="start" fill="#222" >attenuated cytokine response (n=4)</text>
<circle cx="571.1" cy="276.5" r="1.55" fill="#f08080" stroke="#333" stroke-width="0.7" />
<text transform="translate(576.4,278.8) scale(1,1.13)" font-size="5.95" text-anchor="start" fill="#222" >RTX + Metformin-treated tumors with</text>
<text transform="translate(576.4,286.2) scale(1,1.13)" font-size="5.95" text-anchor="start" fill="#222" >non-attenuated cytokine response (n=3)</text>
<text transform="translate(0,361.7) scale(1,1.0)" font-size="18.8" font-weight="bold" text-anchor="start" fill="#000" >E</text>
<text transform="translate(48,364.9) scale(1,1.13)" font-size="7.5" text-anchor="start" fill="#000" >RTX + Metformin group:</text>
<text transform="translate(48,373.5) scale(1,1.13)" font-size="7.5" text-anchor="start" fill="#000" >Attenuated cytokine response vs. non-attenuated response</text>
<line x1="48.3" y1="385.2" x2="48.3" y2="513.9" stroke="#000" stroke-width="0.7" />
<line x1="48" y1="513.5" x2="91.2" y2="513.5" stroke="#000" stroke-width="0.7" />
<line x1="45.9" y1="513.5" x2="48.3" y2="513.5" stroke="#000" stroke-width="0.55" />
<text transform="translate(45.3,515.5) scale(1,1.13)" font-size="5.6" font-weight="bold" text-anchor="end" fill="#000" >0</text>
<line x1="46.9" y1="500.7" x2="48.3" y2="500.7" stroke="#000" stroke-width="0.55" />
<line x1="45.9" y1="487.9" x2="48.3" y2="487.9" stroke="#000" stroke-width="0.55" />
<text transform="translate(45.3,489.9) scale(1,1.13)" font-size="5.6" font-weight="bold" text-anchor="end" fill="#000" >20</text>
<line x1="46.9" y1="475.1" x2="48.3" y2="475.1" stroke="#000" stroke-width="0.55" />
<line x1="45.9" y1="462.3" x2="48.3" y2="462.3" stroke="#000" stroke-width="0.55" />
<text transform="translate(45.3,464.3) scale(1,1.13)" font-size="5.6" font-weight="bold" text-anchor="end" fill="#000" >40</text>
<line x1="46.9" y1="449.5" x2="48.3" y2="449.5" stroke="#000" stroke-width="0.55" />
<line x1="45.9" y1="436.7" x2="48.3" y2="436.7" stroke="#000" stroke-width="0.55" />
<text transform="translate(45.3,438.7) scale(1,1.13)" font-size="5.6" font-weight="bold" text-anchor="end" fill="#000" >60</text>
<line x1="46.9" y1="423.9" x2="48.3" y2="423.9" stroke="#000" stroke-width="0.55" />
<line x1="45.9" y1="411.1" x2="48.3" y2="411.1" stroke="#000" stroke-width="0.55" />
<text transform="translate(45.3,413.1) scale(1,1.13)" font-size="5.6" font-weight="bold" text-anchor="end" fill="#000" >80</text>
<line x1="46.9" y1="398.3" x2="48.3" y2="398.3" stroke="#000" stroke-width="0.55" />
<line x1="45.9" y1="385.5" x2="48.3" y2="385.5" stroke="#000" stroke-width="0.55" />
<text transform="translate(45.3,387.5) scale(1,1.13)" font-size="5.6" font-weight="bold" text-anchor="end" fill="#000" >100</text>
<line x1="124.3" y1="385.2" x2="124.3" y2="513.9" stroke="#000" stroke-width="0.7" />
<line x1="124" y1="513.5" x2="167.9" y2="513.5" stroke="#000" stroke-width="0.7" />
<line x1="121.9" y1="513.5" x2="124.3" y2="513.5" stroke="#000" stroke-width="0.55" />
<text transform="translate(121.3,515.5) scale(1,1.13)" font-size="5.6" font-weight="bold" text-anchor="end" fill="#000" >0</text>
<line x1="122.9" y1="500.7" x2="124.3" y2="500.7" stroke="#000" stroke-width="0.55" />
<line x1="121.9" y1="487.9" x2="124.3" y2="487.9" stroke="#000" stroke-width="0.55" />
<text transform="translate(121.3,489.9) scale(1,1.13)" font-size="5.6" font-weight="bold" text-anchor="end" fill="#000" >10</text>
<line x1="122.9" y1="475.1" x2="124.3" y2="475.1" stroke="#000" stroke-width="0.55" />
<line x1="121.9" y1="462.3" x2="124.3" y2="462.3" stroke="#000" stroke-width="0.55" />
<text transform="translate(121.3,464.3) scale(1,1.13)" font-size="5.6" font-weight="bold" text-anchor="end" fill="#000" >20</text>
<line x1="122.9" y1="449.5" x2="124.3" y2="449.5" stroke="#000" stroke-width="0.55" />
<line x1="121.9" y1="436.7" x2="124.3" y2="436.7" stroke="#000" stroke-width="0.55" />
<text transform="translate(121.3,438.7) scale(1,1.13)" font-size="5.6" font-weight="bold" text-anchor="end" fill="#000" >30</text>
<line x1="122.9" y1="423.9" x2="124.3" y2="423.9" stroke="#000" stroke-width="0.55" />
<line x1="121.9" y1="411.1" x2="124.3" y2="411.1" stroke="#000" stroke-width="0.55" />
<text transform="translate(121.3,413.1) scale(1,1.13)" font-size="5.6" font-weight="bold" text-anchor="end" fill="#000" >40</text>
<line x1="122.9" y1="398.3" x2="124.3" y2="398.3" stroke="#000" stroke-width="0.55" />
<line x1="121.9" y1="385.5" x2="124.3" y2="385.5" stroke="#000" stroke-width="0.55" />
<text transform="translate(121.3,387.5) scale(1,1.13)" font-size="5.6" font-weight="bold" text-anchor="end" fill="#000" >50</text>
<text transform="translate(23.9,444.2) rotate(-90) scale(1,1.13)" font-size="7.8" font-weight="bold" text-anchor="middle" fill="#000">Tumor volume</text>
<text transform="translate(32.6,444.2) rotate(-90) scale(1,1.13)" font-size="7.1" text-anchor="middle" fill="#222">[L x W x H mm<tspan font-size="4.2" dy="-2.6">3</tspan><tspan dy="2.6">]</tspan></text>
<text transform="translate(103.0,444.9) rotate(-90) scale(1,1.13)" font-size="7.9" font-weight="bold" text-anchor="middle" fill="#000">Tumor weight</text>
<text transform="translate(111.0,444.9) rotate(-90) scale(1,1.13)" font-size="7.1" text-anchor="middle" fill="#222">[mg]</text>
<line x1="59.25" y1="468.3" x2="59.25" y2="475.3" stroke="#333" stroke-width="0.6" />
<line x1="59.25" y1="494.4" x2="59.25" y2="498.6" stroke="#333" stroke-width="0.6" />
<rect x="52.5" y="475.3" width="13.5" height="19.1" fill="#cbcbfa" stroke="#333" stroke-width="0.75" />
<line x1="52.5" y1="485.4" x2="66" y2="485.4" stroke="#222" stroke-width="0.8" />
<circle cx="59.2" cy="468" r="1.5" fill="#fff" stroke="#222" stroke-width="0.65" />
<circle cx="59.2" cy="482" r="1.5" fill="#fff" stroke="#222" stroke-width="0.65" />
<circle cx="56" cy="489" r="1.5" fill="#fff" stroke="#222" stroke-width="0.65" />
<circle cx="62.5" cy="499.2" r="1.5" fill="#fff" stroke="#222" stroke-width="0.65" />
<circle cx="58.6" cy="499" r="0.8" fill="#000" stroke="none" stroke-width="0" />
<line x1="81" y1="441.6" x2="81" y2="441.6" stroke="#333" stroke-width="0.6" />
<line x1="81" y1="466.3" x2="81" y2="466.3" stroke="#333" stroke-width="0.6" />
<rect x="74.4" y="441.6" width="13.2" height="24.7" fill="#f99595" stroke="#333" stroke-width="0.75" />
<line x1="74.4" y1="456.5" x2="87.6" y2="456.5" stroke="#222" stroke-width="0.8" />
<circle cx="81.1" cy="441.4" r="1.5" fill="#fff" stroke="#222" stroke-width="0.65" />
<circle cx="81.1" cy="456.7" r="1.5" fill="#fff" stroke="#222" stroke-width="0.65" />
<circle cx="81.1" cy="466.2" r="1.5" fill="#fff" stroke="#222" stroke-width="0.65" />
<line x1="135.6" y1="460.5" x2="135.6" y2="467.2" stroke="#333" stroke-width="0.6" />
<line x1="135.6" y1="490.3" x2="135.6" y2="490.3" stroke="#333" stroke-width="0.6" />
<rect x="129" y="467.2" width="13.2" height="23.1" fill="#cbcbfa" stroke="#333" stroke-width="0.75" />
<line x1="129" y1="482.4" x2="142.2" y2="482.4" stroke="#222" stroke-width="0.8" />
<circle cx="135.4" cy="460.5" r="1.5" fill="#fff" stroke="#222" stroke-width="0.65" />
<circle cx="135.4" cy="474.9" r="1.5" fill="#fff" stroke="#222" stroke-width="0.65" />
<circle cx="132.4" cy="492" r="1.5" fill="#fff" stroke="#222" stroke-width="0.65" />
<circle cx="138.7" cy="489.9" r="1.5" fill="#fff" stroke="#222" stroke-width="0.65" />
<circle cx="135.4" cy="479.1" r="0.8" fill="#333" stroke="none" stroke-width="0" />
<line x1="157.05" y1="432" x2="157.05" y2="432" stroke="#333" stroke-width="0.6" />
<line x1="157.05" y1="457.6" x2="157.05" y2="457.6" stroke="#333" stroke-width="0.6" />
<rect x="150.3" y="432" width="13.5" height="25.6" fill="#f99595" stroke="#333" stroke-width="0.75" />
<line x1="150.3" y1="448.3" x2="163.8" y2="448.3" stroke="#222" stroke-width="0.8" />
<circle cx="157" cy="431.7" r="1.5" fill="#fff" stroke="#222" stroke-width="0.65" />
<circle cx="157" cy="448.5" r="1.5" fill="#fff" stroke="#222" stroke-width="0.65" />
<circle cx="157" cy="457.6" r="1.5" fill="#fff" stroke="#222" stroke-width="0.65" />
<circle cx="157" cy="445.8" r="0.8" fill="#000" stroke="none" stroke-width="0" />
<polyline points="58.4,422.8 58.4,419.1 81.5,419.1 81.5,422.8" stroke="#333" stroke-width="0.7" fill="none" />
<text transform="translate(69.95,417.6) scale(1,1.13)" font-size="4.5" text-anchor="middle" fill="#444" >p= 0.031</text>
<polyline points="135.5,422.8 135.5,419.1 158,419.1 158,422.8" stroke="#333" stroke-width="0.7" fill="none" />
<text transform="translate(146.75,417.6) scale(1,1.13)" font-size="4.5" text-anchor="middle" fill="#444" >p= 0.025</text>
<rect x="132.4" y="387.8" width="7.3" height="7.3" fill="#cbcbfa" stroke="#333" stroke-width="0.6" />
<rect x="132.4" y="395.4" width="7.3" height="7.9" fill="#f99595" stroke="#333" stroke-width="0.6" />
<text transform="translate(141.2,394.2) scale(1,1.13)" font-size="5.95" text-anchor="start" fill="#222" >Attenuated cytokine response (n=4)</text>
<text transform="translate(141.2,402.6) scale(1,1.13)" font-size="5.95" text-anchor="start" fill="#222" >Non-attenuated cytokine response (n=3)</text>
<text transform="translate(253.8,361.9) scale(1,1.0)" font-size="18.8" font-weight="bold" text-anchor="start" fill="#000" >F</text>
<text transform="translate(268.7,365) scale(1,1.13)" font-size="7.55" text-anchor="start" fill="#000" >GSEA: Tumors with attenuated cytokine response vs. tumors with non-attenuated cytokine response</text>
<line x1="281" y1="488.5" x2="368" y2="488.5" stroke="#999" stroke-width="0.5" stroke-dasharray="1,1"/>
<circle cx="296.2" cy="438.1" r="6.4" fill="#7070f2" stroke="#333" stroke-width="0.45" />
<circle cx="300.3" cy="462" r="6.3" fill="#6f6ff2" stroke="#333" stroke-width="0.45" />
<circle cx="302.6" cy="473.8" r="6" fill="#7272f2" stroke="#333" stroke-width="0.45" />
<circle cx="303.8" cy="479.1" r="6" fill="#7070f2" stroke="#333" stroke-width="0.45" />
<circle cx="304.9" cy="483.1" r="6.2" fill="#7474f0" stroke="#333" stroke-width="0.45" />
<circle cx="305.4" cy="486.1" r="5.6" fill="#7a7af0" stroke="#333" stroke-width="0.45" />
<circle cx="305.7" cy="488.6" r="6.2" fill="#e2e2e2" stroke="#333" stroke-width="0.45" />
<circle cx="307" cy="496.8" r="4.5" fill="#e4e4e4" stroke="#333" stroke-width="0.45" />
<circle cx="307.9" cy="499" r="3.9" fill="#e6e6e6" stroke="#333" stroke-width="0.45" />
<circle cx="310.1" cy="507.8" r="2.9" fill="#e6e6e6" stroke="#333" stroke-width="0.45" />
<circle cx="352" cy="428.7" r="5.6" fill="#f47c7c" stroke="#333" stroke-width="0.45" />
<circle cx="349.6" cy="458" r="5.6" fill="#f06a6a" stroke="#333" stroke-width="0.45" />
<circle cx="345.7" cy="477.9" r="5.6" fill="#f06a6a" stroke="#333" stroke-width="0.45" />
<circle cx="344.8" cy="481.4" r="4.6" fill="#f07070" stroke="#333" stroke-width="0.45" />
<circle cx="343.9" cy="486.9" r="5.6" fill="#f05858" stroke="#333" stroke-width="0.45" />
<circle cx="341.8" cy="496.3" r="6.6" fill="#e4e4e4" stroke="#333" stroke-width="0.45" />
<circle cx="339.5" cy="506.9" r="7.4" fill="#e2e2e2" stroke="#333" stroke-width="0.45" />
<circle cx="337.8" cy="510.5" r="4.2" fill="#e6e6e6" stroke="#333" stroke-width="0.45" />
<circle cx="333.4" cy="514.5" r="3" fill="#e6e6e6" stroke="#333" stroke-width="0.45" />
<circle cx="277.5" cy="384.6" r="6.4" fill="#0000ee" stroke="#222" stroke-width="0.4" />
<circle cx="289.9" cy="384.6" r="6.9" fill="#4848ee" stroke="#333" stroke-width="0.5" />
<circle cx="359.1" cy="384.6" r="6" fill="#e83838" stroke="#333" stroke-width="0.5" />
<circle cx="352.8" cy="384.6" r="6" fill="#f04040" stroke="#333" stroke-width="0.5" />
<line x1="324.5" y1="385" x2="324.5" y2="514.8" stroke="#000" stroke-width="0.8" />
<line x1="281" y1="514.4" x2="368" y2="514.4" stroke="#000" stroke-width="0.8" />
<line x1="281" y1="514.4" x2="281" y2="516.6" stroke="#000" stroke-width="0.55" />
<line x1="288.25" y1="514.4" x2="288.25" y2="515.7" stroke="#000" stroke-width="0.55" />
<line x1="295.5" y1="514.4" x2="295.5" y2="516.6" stroke="#000" stroke-width="0.55" />
<line x1="302.75" y1="514.4" x2="302.75" y2="515.7" stroke="#000" stroke-width="0.55" />
<line x1="310" y1="514.4" x2="310" y2="516.6" stroke="#000" stroke-width="0.55" />
<line x1="317.25" y1="514.4" x2="317.25" y2="515.7" stroke="#000" stroke-width="0.55" />
<line x1="324.5" y1="514.4" x2="324.5" y2="516.6" stroke="#000" stroke-width="0.55" />
<line x1="331.75" y1="514.4" x2="331.75" y2="515.7" stroke="#000" stroke-width="0.55" />
<line x1="339" y1="514.4" x2="339" y2="516.6" stroke="#000" stroke-width="0.55" />
<line x1="346.25" y1="514.4" x2="346.25" y2="515.7" stroke="#000" stroke-width="0.55" />
<line x1="353.5" y1="514.4" x2="353.5" y2="516.6" stroke="#000" stroke-width="0.55" />
<line x1="360.75" y1="514.4" x2="360.75" y2="515.7" stroke="#000" stroke-width="0.55" />
<line x1="368" y1="514.4" x2="368" y2="516.6" stroke="#000" stroke-width="0.55" />
<text transform="translate(281,523.3) scale(1,1.13)" font-size="5.6" font-weight="bold" text-anchor="middle" fill="#000" >-3</text>
<text transform="translate(295.5,523.3) scale(1,1.13)" font-size="5.6" font-weight="bold" text-anchor="middle" fill="#000" >-2</text>
<text transform="translate(310,523.3) scale(1,1.13)" font-size="5.6" font-weight="bold" text-anchor="middle" fill="#000" >-1</text>
<text transform="translate(324.5,523.3) scale(1,1.13)" font-size="5.6" font-weight="bold" text-anchor="middle" fill="#000" >0</text>
<text transform="translate(339,523.3) scale(1,1.13)" font-size="5.6" font-weight="bold" text-anchor="middle" fill="#000" >1</text>
<text transform="translate(353.5,523.3) scale(1,1.13)" font-size="5.6" font-weight="bold" text-anchor="middle" fill="#000" >2</text>
<text transform="translate(368,523.3) scale(1,1.13)" font-size="5.6" font-weight="bold" text-anchor="middle" fill="#000" >3</text>
<line x1="322.3" y1="514.4" x2="325.82" y2="514.4" stroke="#000" stroke-width="0.55" />
<line x1="323.3" y1="501.45" x2="324.5" y2="501.45" stroke="#000" stroke-width="0.55" />
<line x1="322.3" y1="488.5" x2="325.82" y2="488.5" stroke="#000" stroke-width="0.55" />
<line x1="323.3" y1="475.55" x2="324.5" y2="475.55" stroke="#000" stroke-width="0.55" />
<line x1="322.3" y1="462.6" x2="325.82" y2="462.6" stroke="#000" stroke-width="0.55" />
<line x1="323.3" y1="449.65" x2="324.5" y2="449.65" stroke="#000" stroke-width="0.55" />
<line x1="322.3" y1="436.7" x2="325.82" y2="436.7" stroke="#000" stroke-width="0.55" />
<line x1="323.3" y1="423.75" x2="324.5" y2="423.75" stroke="#000" stroke-width="0.55" />
<line x1="322.3" y1="410.8" x2="325.82" y2="410.8" stroke="#000" stroke-width="0.55" />
<text transform="translate(320.7,490.6) scale(1,1.13)" font-size="6" font-weight="bold" text-anchor="end" fill="#000" >1</text>
<text transform="translate(320.7,464.7) scale(1,1.13)" font-size="6" font-weight="bold" text-anchor="end" fill="#000" >2</text>
<text transform="translate(320.7,438.8) scale(1,1.13)" font-size="6" font-weight="bold" text-anchor="end" fill="#000" >3</text>
<text transform="translate(320.7,412.9) scale(1,1.13)" font-size="6" font-weight="bold" text-anchor="end" fill="#000" >4</text>
<path d="M322.4,403.6 L326.4,400.6 M322.4,404.6 L326.4,401.6" stroke="#555" stroke-width="0.5"/>
<text transform="translate(324.6,532.7) scale(1,1.13)" font-size="7.3" font-weight="bold" text-anchor="middle" fill="#000" >NES</text>
<text transform="translate(324.6,373.4) scale(1,1.13)" font-size="6.1" font-weight="bold" text-anchor="middle" fill="#000" >FDR q-value</text>
<text transform="translate(324.6,381.2) scale(1,1.13)" font-size="6" text-anchor="middle" fill="#333" >[-log]</text>
<text transform="translate(395.5,374.9) scale(1,1.13)" font-size="6" font-weight="bold" text-anchor="middle" fill="#000" >Size</text>
<circle cx="389.3" cy="384.1" r="6.3" fill="none" stroke="#111" stroke-width="0.75" />
<circle cx="389.3" cy="385.5" r="4.9" fill="none" stroke="#111" stroke-width="0.75" />
<circle cx="389.3" cy="386.8" r="3.6" fill="none" stroke="#111" stroke-width="0.75" />
<circle cx="389.3" cy="388" r="2.4" fill="none" stroke="#111" stroke-width="0.75" />
<circle cx="389.3" cy="389.1" r="1.3" fill="none" stroke="#111" stroke-width="0.75" />
<text transform="translate(400.6,384.1) rotate(-90) scale(1,1.2)" font-size="2.35" font-weight="bold" text-anchor="middle" fill="#444">50100150200</text>
<text transform="translate(377.6,406.2) scale(1,1.13)" font-size="6.1" font-weight="bold" text-anchor="start" fill="#000" >NAME</text>
<text transform="translate(533.8,406.3) scale(1,1.13)" font-size="6.1" font-weight="bold" text-anchor="start" fill="#000" >SIZE</text>
<text transform="translate(558.9,406.3) scale(1,1.13)" font-size="6.1" font-weight="bold" text-anchor="start" fill="#000" >ES</text>
<text transform="translate(582.4,406.3) scale(1,1.13)" font-size="6.1" font-weight="bold" text-anchor="start" fill="#000" >NES</text>
<text transform="translate(609.4,406.3) scale(1,1.13)" font-size="6.1" font-weight="bold" text-anchor="start" fill="#000" >NOM p-val</text>
<text transform="translate(647.2,406.3) scale(1,1.13)" font-size="6.1" font-weight="bold" text-anchor="start" fill="#000" >FDR q-val</text>
<line x1="373.5" y1="409.8" x2="684" y2="409.8" stroke="#d8dff0" stroke-width="0.9" />
<rect x="529.7" y="410.3" width="153.9" height="104.58" fill="#fff" stroke="#c8d4ec" stroke-width="0.6" />
<rect x="529.7" y="410.3" width="153.9" height="7.47" fill="#d9e1f2" stroke="none" stroke-width="0.6" />
<line x1="529.7" y1="417.77" x2="683.6" y2="417.77" stroke="#c8d4ec" stroke-width="0.4" />
<line x1="529.7" y1="425.24" x2="683.6" y2="425.24" stroke="#c8d4ec" stroke-width="0.4" />
<rect x="529.7" y="425.24" width="153.9" height="7.47" fill="#d9e1f2" stroke="none" stroke-width="0.6" />
<line x1="529.7" y1="432.71" x2="683.6" y2="432.71" stroke="#c8d4ec" stroke-width="0.4" />
<line x1="529.7" y1="440.18" x2="683.6" y2="440.18" stroke="#c8d4ec" stroke-width="0.4" />
<rect x="529.7" y="440.18" width="153.9" height="7.47" fill="#d9e1f2" stroke="none" stroke-width="0.6" />
<line x1="529.7" y1="447.65" x2="683.6" y2="447.65" stroke="#c8d4ec" stroke-width="0.4" />
<line x1="529.7" y1="455.12" x2="683.6" y2="455.12" stroke="#c8d4ec" stroke-width="0.4" />
<rect x="529.7" y="455.12" width="153.9" height="7.47" fill="#d9e1f2" stroke="none" stroke-width="0.6" />
<line x1="529.7" y1="462.59" x2="683.6" y2="462.59" stroke="#c8d4ec" stroke-width="0.4" />
<line x1="529.7" y1="470.06" x2="683.6" y2="470.06" stroke="#c8d4ec" stroke-width="0.4" />
<rect x="529.7" y="470.06" width="153.9" height="7.47" fill="#d9e1f2" stroke="none" stroke-width="0.6" />
<line x1="529.7" y1="477.53" x2="683.6" y2="477.53" stroke="#c8d4ec" stroke-width="0.4" />
<line x1="529.7" y1="485" x2="683.6" y2="485" stroke="#c8d4ec" stroke-width="0.4" />
<rect x="529.7" y="485" width="153.9" height="7.47" fill="#d9e1f2" stroke="none" stroke-width="0.6" />
<line x1="529.7" y1="492.47" x2="683.6" y2="492.47" stroke="#c8d4ec" stroke-width="0.4" />
<line x1="529.7" y1="499.94" x2="683.6" y2="499.94" stroke="#c8d4ec" stroke-width="0.4" />
<rect x="529.7" y="499.94" width="153.9" height="7.47" fill="#d9e1f2" stroke="none" stroke-width="0.6" />
<line x1="529.7" y1="507.41" x2="683.6" y2="507.41" stroke="#c8d4ec" stroke-width="0.4" />
<line x1="529.7" y1="514.88" x2="683.6" y2="514.88" stroke="#c8d4ec" stroke-width="0.4" />
<line x1="555.4" y1="410.3" x2="555.4" y2="514.88" stroke="#fff" stroke-width="0.8" />
<line x1="556" y1="410.3" x2="556" y2="514.88" stroke="#c8d4ec" stroke-width="0.35" />
<line x1="579.7" y1="410.3" x2="579.7" y2="514.88" stroke="#fff" stroke-width="0.8" />
<line x1="580.3" y1="410.3" x2="580.3" y2="514.88" stroke="#c8d4ec" stroke-width="0.35" />
<line x1="605.3" y1="410.3" x2="605.3" y2="514.88" stroke="#fff" stroke-width="0.8" />
<line x1="605.9" y1="410.3" x2="605.9" y2="514.88" stroke="#c8d4ec" stroke-width="0.35" />
<line x1="643.1" y1="410.3" x2="643.1" y2="514.88" stroke="#fff" stroke-width="0.8" />
<line x1="643.7" y1="410.3" x2="643.7" y2="514.88" stroke="#c8d4ec" stroke-width="0.35" />
<text transform="translate(378.2,415.65) scale(1,1.13)" font-size="5.67" text-anchor="start" fill="#2a2a2a" >HALLMARK_MYC_TARGETS_V1</text>
<text transform="translate(551.3,415.65) scale(1,1.13)" font-size="5.9" text-anchor="end" fill="#2a2a2a" >199</text>
<text transform="translate(576.4,415.65) scale(1,1.13)" font-size="5.9" text-anchor="end" fill="#2a2a2a" >-0.598</text>
<text transform="translate(602.6,415.65) scale(1,1.13)" font-size="5.9" text-anchor="end" fill="#2a2a2a" >-3.181</text>
<text transform="translate(641,415.65) scale(1,1.13)" font-size="5.9" text-anchor="end" fill="#2a2a2a" >0.000</text>
<text transform="translate(681,415.65) scale(1,1.13)" font-size="5.9" text-anchor="end" fill="#2a2a2a" >0.000</text>
<text transform="translate(378.2,423.12) scale(1,1.13)" font-size="5.67" text-anchor="start" fill="#2a2a2a" >HALLMARK_MYC_TARGETS_V2</text>
<text transform="translate(551.3,423.12) scale(1,1.13)" font-size="5.9" text-anchor="end" fill="#2a2a2a" >56</text>
<text transform="translate(576.4,423.12) scale(1,1.13)" font-size="5.9" text-anchor="end" fill="#2a2a2a" >-0.633</text>
<text transform="translate(602.6,423.12) scale(1,1.13)" font-size="5.9" text-anchor="end" fill="#2a2a2a" >-2.697</text>
<text transform="translate(641,423.12) scale(1,1.13)" font-size="5.9" text-anchor="end" fill="#2a2a2a" >0.000</text>
<text transform="translate(681,423.12) scale(1,1.13)" font-size="5.9" text-anchor="end" fill="#2a2a2a" >0.000</text>
<text transform="translate(378.2,430.59) scale(1,1.13)" font-size="5.67" text-anchor="start" fill="#2a2a2a" >HALLMARK_OXIDATIVE_PHOSPHORYLATION</text>
<text transform="translate(551.3,430.59) scale(1,1.13)" font-size="5.9" text-anchor="end" fill="#2a2a2a" >194</text>
<text transform="translate(576.4,430.59) scale(1,1.13)" font-size="5.9" text-anchor="end" fill="#2a2a2a" >-0.472</text>
<text transform="translate(602.6,430.59) scale(1,1.13)" font-size="5.9" text-anchor="end" fill="#2a2a2a" >-2.448</text>
<text transform="translate(641,430.59) scale(1,1.13)" font-size="5.9" text-anchor="end" fill="#2a2a2a" >0.000</text>
<text transform="translate(681,430.59) scale(1,1.13)" font-size="5.9" text-anchor="end" fill="#2a2a2a" >0.000</text>
<text transform="translate(378.2,438.06) scale(1,1.13)" font-size="5.67" text-anchor="start" fill="#2a2a2a" >HALLMARK_E2F_TARGETS</text>
<text transform="translate(551.3,438.06) scale(1,1.13)" font-size="5.9" text-anchor="end" fill="#2a2a2a" >198</text>
<text transform="translate(576.4,438.06) scale(1,1.13)" font-size="5.9" text-anchor="end" fill="#2a2a2a" >-0.440</text>
<text transform="translate(602.6,438.06) scale(1,1.13)" font-size="5.9" text-anchor="end" fill="#2a2a2a" >-2.329</text>
<text transform="translate(641,438.06) scale(1,1.13)" font-size="5.9" text-anchor="end" fill="#2a2a2a" >0.000</text>
<text transform="translate(681,438.06) scale(1,1.13)" font-size="5.9" text-anchor="end" fill="#2a2a2a" >0.000</text>
<text transform="translate(378.2,445.53) scale(1,1.13)" font-size="5.67" text-anchor="start" fill="#2a2a2a" >HALLMARK_DNA_REPAIR</text>
<text transform="translate(551.3,445.53) scale(1,1.13)" font-size="5.9" text-anchor="end" fill="#2a2a2a" >146</text>
<text transform="translate(576.4,445.53) scale(1,1.13)" font-size="5.9" text-anchor="end" fill="#2a2a2a" >-0.389</text>
<text transform="translate(602.6,445.53) scale(1,1.13)" font-size="5.9" text-anchor="end" fill="#2a2a2a" >-1.968</text>
<text transform="translate(641,445.53) scale(1,1.13)" font-size="5.9" text-anchor="end" fill="#2a2a2a" >0.000</text>
<text transform="translate(681,445.53) scale(1,1.13)" font-size="5.9" text-anchor="end" fill="#2a2a2a" >0.001</text>
<text transform="translate(378.2,453) scale(1,1.13)" font-size="5.67" text-anchor="start" fill="#2a2a2a" >HALLMARK_G2M_CHECKPOINT</text>
<text transform="translate(551.3,453) scale(1,1.13)" font-size="5.9" text-anchor="end" fill="#2a2a2a" >198</text>
<text transform="translate(576.4,453) scale(1,1.13)" font-size="5.9" text-anchor="end" fill="#2a2a2a" >-0.368</text>
<text transform="translate(602.6,453) scale(1,1.13)" font-size="5.9" text-anchor="end" fill="#2a2a2a" >-1.910</text>
<text transform="translate(641,453) scale(1,1.13)" font-size="5.9" text-anchor="end" fill="#2a2a2a" >0.000</text>
<text transform="translate(681,453) scale(1,1.13)" font-size="5.9" text-anchor="end" fill="#2a2a2a" >0.001</text>
<text transform="translate(378.2,460.47) scale(1,1.13)" font-size="5.67" text-anchor="start" fill="#2a2a2a" >HALLMARK_REACTIVE_OXYGEN_SPECIES_PATHWAY</text>
<text transform="translate(551.3,460.47) scale(1,1.13)" font-size="5.9" text-anchor="end" fill="#2a2a2a" >44</text>
<text transform="translate(576.4,460.47) scale(1,1.13)" font-size="5.9" text-anchor="end" fill="#2a2a2a" >-0.408</text>
<text transform="translate(602.6,460.47) scale(1,1.13)" font-size="5.9" text-anchor="end" fill="#2a2a2a" >-1.648</text>
<text transform="translate(641,460.47) scale(1,1.13)" font-size="5.9" text-anchor="end" fill="#2a2a2a" >0.009</text>
<text transform="translate(681,460.47) scale(1,1.13)" font-size="5.9" text-anchor="end" fill="#2a2a2a" >0.011</text>
<text transform="translate(378.2,467.94) scale(1,1.13)" font-size="5.67" text-anchor="start" fill="#2a2a2a" >HALLMARK_INTERFERON_ALPHA_RESPONSE</text>
<text transform="translate(551.3,467.94) scale(1,1.13)" font-size="5.9" text-anchor="end" fill="#2a2a2a" >95</text>
<text transform="translate(576.4,467.94) scale(1,1.13)" font-size="5.9" text-anchor="end" fill="#2a2a2a" >-0.347</text>
<text transform="translate(602.6,467.94) scale(1,1.13)" font-size="5.9" text-anchor="end" fill="#2a2a2a" >-1.647</text>
<text transform="translate(641,467.94) scale(1,1.13)" font-size="5.9" text-anchor="end" fill="#2a2a2a" >0.004</text>
<text transform="translate(681,467.94) scale(1,1.13)" font-size="5.9" text-anchor="end" fill="#2a2a2a" >0.010</text>
<text transform="translate(378.2,475.41) scale(1,1.13)" font-size="5.67" text-anchor="start" fill="#2a2a2a" >HALLMARK_INTERFERON_GAMMA_RESPONSE</text>
<text transform="translate(551.3,475.41) scale(1,1.13)" font-size="5.9" text-anchor="end" fill="#2a2a2a" >176</text>
<text transform="translate(576.4,475.41) scale(1,1.13)" font-size="5.9" text-anchor="end" fill="#2a2a2a" >-0.312</text>
<text transform="translate(602.6,475.41) scale(1,1.13)" font-size="5.9" text-anchor="end" fill="#2a2a2a" >-1.642</text>
<text transform="translate(641,475.41) scale(1,1.13)" font-size="5.9" text-anchor="end" fill="#2a2a2a" >0.000</text>
<text transform="translate(681,475.41) scale(1,1.13)" font-size="5.9" text-anchor="end" fill="#2a2a2a" >0.009</text>
<text transform="translate(378.2,482.88) scale(1,1.13)" font-size="5.67" text-anchor="start" fill="#2a2a2a" >HALLMARK_ADIPOGENESIS</text>
<text transform="translate(551.3,482.88) scale(1,1.13)" font-size="5.9" text-anchor="end" fill="#2a2a2a" >179</text>
<text transform="translate(576.4,482.88) scale(1,1.13)" font-size="5.9" text-anchor="end" fill="#2a2a2a" >-0.290</text>
<text transform="translate(602.6,482.88) scale(1,1.13)" font-size="5.9" text-anchor="end" fill="#2a2a2a" >-1.489</text>
<text transform="translate(641,482.88) scale(1,1.13)" font-size="5.9" text-anchor="end" fill="#2a2a2a" >0.006</text>
<text transform="translate(681,482.88) scale(1,1.13)" font-size="5.9" text-anchor="end" fill="#2a2a2a" >0.029</text>
<text transform="translate(378.2,490.35) scale(1,1.13)" font-size="5.67" text-anchor="start" fill="#2a2a2a" >HALLMARK_ESTROGEN_RESPONSE_LATE</text>
<text transform="translate(551.3,490.35) scale(1,1.13)" font-size="5.9" text-anchor="end" fill="#2a2a2a" >174</text>
<text transform="translate(576.4,490.35) scale(1,1.13)" font-size="5.9" text-anchor="end" fill="#2a2a2a" >-0.273</text>
<text transform="translate(602.6,490.35) scale(1,1.13)" font-size="5.9" text-anchor="end" fill="#2a2a2a" >-1.406</text>
<text transform="translate(641,490.35) scale(1,1.13)" font-size="5.9" text-anchor="end" fill="#2a2a2a" >0.015</text>
<text transform="translate(681,490.35) scale(1,1.13)" font-size="5.9" text-anchor="end" fill="#2a2a2a" >0.046</text>
<text transform="translate(378.2,497.82) scale(1,1.13)" font-size="5.67" text-anchor="start" fill="#2a2a2a" >HALLMARK_INFLAMMATORY_RESPONSE</text>
<text transform="translate(551.3,497.82) scale(1,1.13)" font-size="5.9" text-anchor="end" fill="#2a2a2a" >134</text>
<text transform="translate(576.4,497.82) scale(1,1.13)" font-size="5.9" text-anchor="end" fill="#2a2a2a" >-0.280</text>
<text transform="translate(602.6,497.82) scale(1,1.13)" font-size="5.9" text-anchor="end" fill="#2a2a2a" >-1.394</text>
<text transform="translate(641,497.82) scale(1,1.13)" font-size="5.9" text-anchor="end" fill="#2a2a2a" >0.013</text>
<text transform="translate(681,497.82) scale(1,1.13)" font-size="5.9" text-anchor="end" fill="#2a2a2a" >0.046</text>
<text transform="translate(378.2,505.29) scale(1,1.13)" font-size="5.67" text-anchor="start" fill="#2a2a2a" >HALLMARK_MTORC1_SIGNALING</text>
<text transform="translate(551.3,505.29) scale(1,1.13)" font-size="5.9" text-anchor="end" fill="#2a2a2a" >190</text>
<text transform="translate(576.4,505.29) scale(1,1.13)" font-size="5.9" text-anchor="end" fill="#2a2a2a" >-0.252</text>
<text transform="translate(602.6,505.29) scale(1,1.13)" font-size="5.9" text-anchor="end" fill="#2a2a2a" >-1.323</text>
<text transform="translate(641,505.29) scale(1,1.13)" font-size="5.9" text-anchor="end" fill="#2a2a2a" >0.005</text>
<text transform="translate(681,505.29) scale(1,1.13)" font-size="5.9" text-anchor="end" fill="#2a2a2a" >0.074</text>
<text transform="translate(378.2,512.76) scale(1,1.13)" font-size="5.67" text-anchor="start" fill="#2a2a2a" >HALLMARK_UV_RESPONSE_UP</text>
<text transform="translate(551.3,512.76) scale(1,1.13)" font-size="5.9" text-anchor="end" fill="#2a2a2a" >137</text>
<text transform="translate(576.4,512.76) scale(1,1.13)" font-size="5.9" text-anchor="end" fill="#2a2a2a" >-0.258</text>
<text transform="translate(602.6,512.76) scale(1,1.13)" font-size="5.9" text-anchor="end" fill="#2a2a2a" >-1.294</text>
<text transform="translate(641,512.76) scale(1,1.13)" font-size="5.9" text-anchor="end" fill="#2a2a2a" >0.047</text>
<text transform="translate(681,512.76) scale(1,1.13)" font-size="5.9" text-anchor="end" fill="#2a2a2a" >0.090</text>
</svg>
</body></html>
